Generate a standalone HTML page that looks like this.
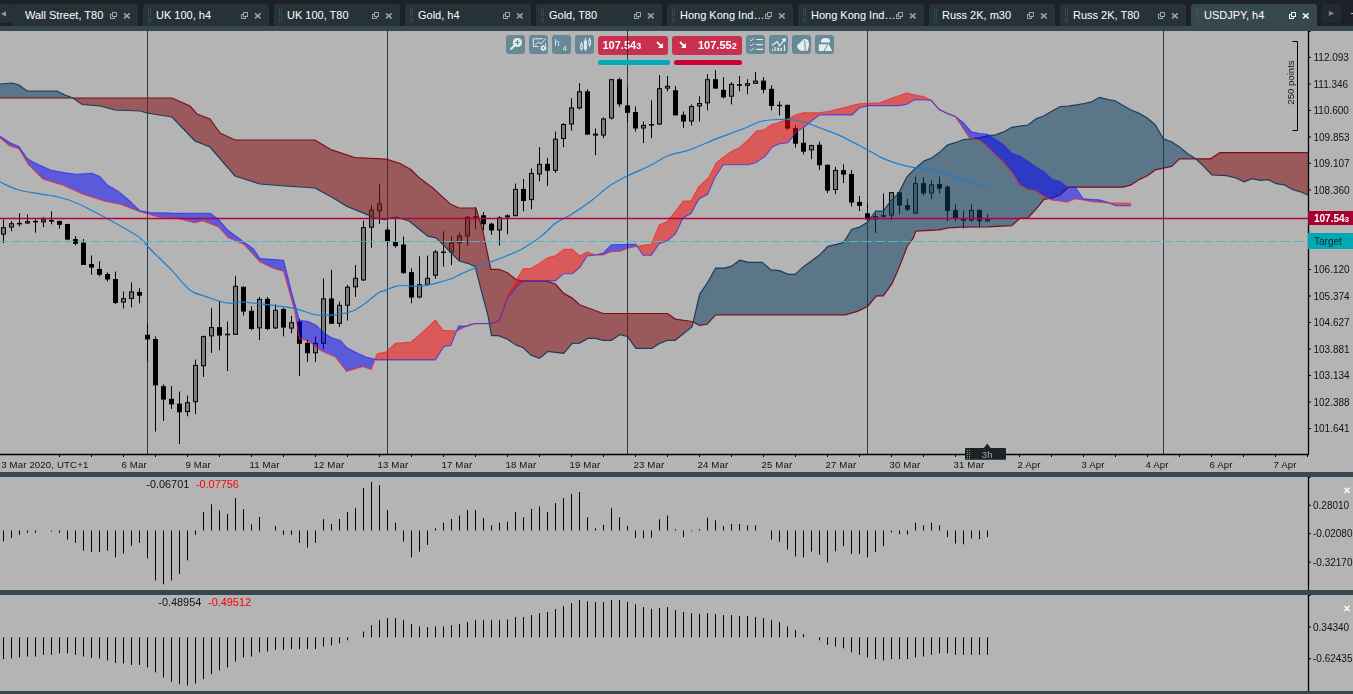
<!DOCTYPE html>
<html><head><meta charset="utf-8"><style>
html,body{margin:0;padding:0;}
body{width:1353px;height:694px;overflow:hidden;position:relative;background:#b4b4b4;font-family:"Liberation Sans",sans-serif;}
</style></head><body>
<svg width="1353" height="694" viewBox="0 0 1353 694" style="position:absolute;left:0;top:0;will-change:transform"><defs><clipPath id="cpMain"><rect x="0" y="31" width="1308" height="423"/></clipPath><clipPath id="belowSA"><polygon points="0.0,84.0 12.0,83.0 19.0,85.0 27.0,91.0 57.0,91.0 65.0,95.0 73.0,98.0 82.0,104.5 100.0,106.0 115.0,110.0 140.0,111.0 147.0,113.0 172.0,117.0 195.0,141.0 210.0,147.0 235.0,176.0 260.0,184.0 285.0,186.0 315.0,188.0 333.3,198.0 346.5,206.3 363.1,212.9 374.7,217.9 384.7,219.6 396.3,216.9 409.6,221.2 419.5,229.5 427.8,236.1 436.1,237.8 447.7,249.4 459.3,261.0 467.6,263.3 475.1,266.4 481.1,289.8 488.0,315.7 491.5,335.6 498.4,335.6 507.5,339.3 515.9,345.0 523.4,347.8 530.9,355.3 539.4,358.4 547.8,351.5 563.7,353.4 572.2,343.4 579.6,343.1 588.1,338.4 595.6,338.4 603.1,340.3 611.5,340.3 619.9,334.6 627.4,336.5 635.9,348.3 651.8,348.3 660.2,343.1 667.7,340.3 675.2,340.3 692.1,326.6 699.6,294.3 706.9,283.7 715.6,268.1 724.2,268.1 731.1,266.4 739.8,260.2 748.4,262.3 762.3,262.3 770.9,269.9 779.6,270.6 788.2,274.4 795.1,274.4 803.8,266.4 819.3,255.3 828.0,246.3 841.8,243.2 845.1,240.0 851.6,229.4 859.4,227.2 867.8,222.0 875.6,211.2 883.4,211.2 889.9,201.9 898.9,192.8 906.9,176.8 915.0,168.8 924.2,160.7 931.1,158.4 939.2,152.6 947.3,145.0 955.3,142.7 963.4,139.5 971.5,138.8 979.5,137.6 987.6,135.8 995.7,134.9 1003.7,131.9 1011.8,127.3 1019.9,126.1 1028.0,125.0 1036.0,118.7 1044.1,115.7 1052.2,111.1 1060.2,106.5 1068.3,106.1 1076.4,104.9 1084.4,103.5 1091.4,101.9 1099.4,97.3 1108.1,99.6 1115.0,100.7 1123.1,105.4 1131.1,110.0 1139.2,113.4 1147.3,118.0 1155.3,125.0 1163.4,138.8 1171.5,141.8 1179.5,146.9 1187.6,153.8 1195.7,158.8 1203.7,166.4 1211.8,175.0 1226.8,175.7 1236.0,178.0 1244.1,181.9 1252.1,178.7 1260.2,180.3 1268.3,179.6 1276.3,183.7 1284.4,184.9 1292.5,189.5 1300.6,191.8 1308.0,195.3 1308,460 0,460"/></clipPath><clipPath id="belowSB"><polygon points="0.0,98.0 172.0,98.0 190.0,106.0 197.0,114.0 210.0,119.0 220.0,133.0 235.0,140.0 315.0,140.0 331.6,149.9 354.8,157.5 386.3,159.2 399.6,163.2 411.2,169.8 419.5,178.1 432.8,188.0 451.0,204.6 459.3,208.0 475.9,208.0 482.5,229.5 490.8,269.3 499.1,269.3 507.5,272.8 515.9,279.4 522.5,281.2 546.9,281.2 555.3,284.0 563.7,293.4 572.2,298.1 579.6,304.7 603.1,313.5 667.7,313.5 675.2,319.1 692.1,321.5 699.6,325.3 707.1,324.3 715.6,314.8 845.3,314.8 857.4,311.4 867.8,306.2 876.4,295.8 883.3,295.8 892.0,283.7 898.9,268.1 907.5,245.7 913.2,238.2 915.8,231.1 939.1,229.8 948.2,227.8 961.2,227.2 987.1,226.8 1011.8,225.7 1019.9,218.3 1028.0,217.9 1036.0,209.1 1044.1,199.4 1052.2,198.0 1060.2,194.8 1068.3,187.2 1123.1,187.2 1131.1,184.9 1139.2,179.6 1147.3,175.7 1155.3,169.9 1163.4,168.1 1171.5,166.4 1179.5,158.8 1210.6,158.8 1219.9,152.6 1308.0,152.6 1308,460 0,460"/></clipPath><clipPath id="belowP"><polygon points="0.0,136.1 9.5,142.5 19.0,146.6 26.9,158.3 34.9,163.1 50.7,170.0 63.4,172.6 76.0,174.2 91.9,173.2 99.8,176.4 107.7,185.3 118.8,191.6 129.9,201.1 139.4,210.5 148.9,212.5 171.1,213.1 210.1,213.2 218.6,219.5 228.1,230.5 240.8,239.8 253.5,248.8 259.8,258.6 283.6,260.2 291.5,291.9 299.4,320.4 308.5,321.6 316.5,325.4 324.4,333.3 332.3,338.1 340.3,340.6 346.6,347.6 356.1,352.4 365.6,357.1 377.3,359.9 435.3,359.9 443.9,346.5 450.8,345.5 458.6,326.1 467.3,326.1 475.1,323.5 491.5,323.5 499.3,320.9 507.5,298.1 515.0,288.7 522.5,280.9 555.3,280.9 563.7,273.7 572.2,273.7 579.6,267.7 587.1,255.9 595.6,255.0 603.1,253.1 611.5,244.7 635.8,244.2 643.0,255.3 651.4,255.3 659.2,243.7 667.6,240.7 675.4,233.8 683.2,217.7 691.0,213.5 698.7,199.2 707.8,194.0 715.2,176.9 723.3,164.8 748.5,164.8 755.5,162.8 764.6,156.8 772.7,146.7 779.7,143.7 787.8,142.7 796.9,131.6 804.9,126.5 812.0,120.5 820.0,114.8 852.2,114.9 859.1,108.0 867.8,105.6 898.9,105.6 906.9,104.2 915.0,99.6 931.1,100.3 939.2,109.5 947.3,113.4 955.3,116.4 963.4,122.7 971.5,131.9 979.5,133.5 987.6,134.2 995.7,139.5 1003.7,145.0 1011.8,153.3 1019.9,156.1 1028.0,161.2 1036.0,167.1 1044.1,171.8 1052.2,179.6 1060.2,181.4 1067.1,187.2 1075.2,187.2 1083.3,198.7 1091.4,199.4 1099.4,199.9 1107.5,202.2 1115.6,205.6 1131.2,205.6 1131.2,460 0,460"/></clipPath><clipPath id="belowR"><polygon points="0.0,137.7 9.5,145.7 19.0,148.8 28.5,164.7 42.8,178.9 63.4,185.3 82.4,194.1 104.6,201.1 120.4,204.3 139.4,211.5 158.4,217.0 177.4,218.5 194.9,222.7 202.8,220.7 218.6,227.0 228.1,237.5 244.0,244.4 259.8,261.8 272.5,268.1 283.6,271.3 294.7,310.9 299.4,338.5 308.5,341.3 321.2,350.8 335.5,357.1 346.6,371.4 362.5,366.6 371.2,369.4 377.3,353.8 386.0,352.1 395.5,343.4 411.0,342.0 419.7,334.8 429.2,326.1 435.3,320.1 443.0,330.4 456.9,331.0 470.7,324.0 491.5,323.5 499.3,320.1 507.5,295.3 515.0,282.2 523.4,268.5 530.9,268.5 539.4,263.4 547.8,257.8 555.3,255.9 563.7,249.4 572.2,249.4 579.6,255.9 587.1,252.2 595.6,255.0 603.1,255.0 611.5,251.6 619.9,251.2 630.0,247.8 643.0,245.2 651.4,244.2 659.2,225.1 667.6,221.2 675.4,211.5 683.2,201.1 691.0,201.1 698.7,186.9 709.2,176.9 716.2,162.8 724.3,156.4 732.3,151.1 739.4,147.7 748.5,139.6 756.5,131.0 764.6,129.6 770.6,124.9 778.7,122.5 788.8,118.5 796.9,114.4 802.9,112.8 819.0,112.8 829.1,111.4 845.3,107.3 859.1,103.8 879.9,102.8 893.7,97.6 906.9,93.1 915.0,95.0 923.1,96.6 931.1,100.3 939.2,109.5 947.3,113.4 955.3,116.4 969.2,137.6 980.7,141.1 987.6,146.9 995.7,154.9 1003.7,162.5 1011.8,172.2 1019.9,184.9 1028.0,189.5 1036.0,190.7 1044.1,196.4 1052.2,200.3 1060.2,201.0 1067.1,202.2 1075.2,198.7 1083.3,199.9 1091.4,201.7 1099.4,202.2 1107.5,202.9 1131.2,203.3 1131.2,460 0,460"/></clipPath></defs><g clip-path="url(#cpMain)"><line x1="147.5" y1="31" x2="147.5" y2="454" stroke="#263c4c" stroke-width="1"/><line x1="387.5" y1="31" x2="387.5" y2="454" stroke="#263c4c" stroke-width="1"/><line x1="627.5" y1="31" x2="627.5" y2="454" stroke="#263c4c" stroke-width="1"/><line x1="867.5" y1="31" x2="867.5" y2="454" stroke="#263c4c" stroke-width="1"/><line x1="1163.5" y1="31" x2="1163.5" y2="454" stroke="#263c4c" stroke-width="1"/><line x1="3.5" y1="219.6" x2="3.5" y2="243.0" stroke="#000" stroke-width="1"/><rect x="1.5" y="227.7" width="4" height="6.4" fill="#7a7a7a" stroke="#000" stroke-width="1"/><line x1="11.5" y1="221.2" x2="11.5" y2="231.2" stroke="#000" stroke-width="1"/><rect x="9.5" y="223.7" width="4" height="3.3" fill="#7a7a7a" stroke="#000" stroke-width="1"/><line x1="19.5" y1="213.2" x2="19.5" y2="226.4" stroke="#000" stroke-width="1"/><rect x="17.0" y="222.9" width="5" height="1.5" fill="#000"/><line x1="27.5" y1="214.5" x2="27.5" y2="223.7" stroke="#000" stroke-width="1"/><rect x="25.5" y="221.7" width="4" height="1.3" fill="#7a7a7a" stroke="#000" stroke-width="1"/><line x1="35.5" y1="219.3" x2="35.5" y2="232.7" stroke="#000" stroke-width="1"/><rect x="33.0" y="220.9" width="5" height="1.5" fill="#000"/><line x1="43.5" y1="216.9" x2="43.5" y2="227.2" stroke="#000" stroke-width="1"/><rect x="41.5" y="219.8" width="4" height="2.1" fill="#7a7a7a" stroke="#000" stroke-width="1"/><line x1="51.5" y1="211.3" x2="51.5" y2="224.3" stroke="#000" stroke-width="1"/><rect x="49.0" y="220.0" width="5" height="1.6" fill="#000"/><line x1="59.5" y1="220.9" x2="59.5" y2="228.5" stroke="#000" stroke-width="1"/><rect x="57.0" y="220.9" width="5" height="3.9" fill="#000"/><line x1="67.5" y1="223.7" x2="67.5" y2="240.2" stroke="#000" stroke-width="1"/><rect x="65.0" y="224.0" width="5" height="15.6" fill="#000"/><line x1="75.5" y1="236.2" x2="75.5" y2="245.4" stroke="#000" stroke-width="1"/><rect x="73.0" y="239.1" width="5" height="4.7" fill="#000"/><line x1="83.5" y1="239.1" x2="83.5" y2="265.0" stroke="#000" stroke-width="1"/><rect x="81.0" y="242.7" width="5" height="22.3" fill="#000"/><line x1="91.5" y1="255.4" x2="91.5" y2="274.8" stroke="#000" stroke-width="1"/><rect x="89.0" y="264.0" width="5" height="3.6" fill="#000"/><line x1="99.5" y1="261.3" x2="99.5" y2="276.3" stroke="#000" stroke-width="1"/><rect x="97.0" y="268.9" width="5" height="5.9" fill="#000"/><line x1="107.5" y1="272.4" x2="107.5" y2="281.4" stroke="#000" stroke-width="1"/><rect x="105.0" y="274.0" width="5" height="5.5" fill="#000"/><line x1="115.5" y1="271.6" x2="115.5" y2="304.1" stroke="#000" stroke-width="1"/><rect x="113.0" y="279.0" width="5" height="24.0" fill="#000"/><line x1="123.5" y1="291.4" x2="123.5" y2="308.4" stroke="#000" stroke-width="1"/><rect x="121.5" y="298.7" width="4" height="3.3" fill="#7a7a7a" stroke="#000" stroke-width="1"/><line x1="131.5" y1="282.4" x2="131.5" y2="307.3" stroke="#000" stroke-width="1"/><rect x="129.5" y="291.9" width="4" height="6.5" fill="#7a7a7a" stroke="#000" stroke-width="1"/><line x1="139.5" y1="288.2" x2="139.5" y2="303.3" stroke="#000" stroke-width="1"/><rect x="137.0" y="291.9" width="5" height="3.8" fill="#000"/><line x1="147.5" y1="323.6" x2="147.5" y2="361.6" stroke="#000" stroke-width="1"/><rect x="145.0" y="334.7" width="5" height="4.7" fill="#000"/><line x1="155.5" y1="336.4" x2="155.5" y2="431.5" stroke="#000" stroke-width="1"/><rect x="153.0" y="339.0" width="5" height="46.4" fill="#000"/><line x1="163.5" y1="384.4" x2="163.5" y2="420.9" stroke="#000" stroke-width="1"/><rect x="161.0" y="386.2" width="5" height="13.4" fill="#000"/><line x1="171.5" y1="386.2" x2="171.5" y2="408.9" stroke="#000" stroke-width="1"/><rect x="169.0" y="398.8" width="5" height="5.6" fill="#000"/><line x1="179.5" y1="391.6" x2="179.5" y2="444.0" stroke="#000" stroke-width="1"/><rect x="177.0" y="403.6" width="5" height="8.7" fill="#000"/><line x1="187.5" y1="395.6" x2="187.5" y2="416.3" stroke="#000" stroke-width="1"/><rect x="185.5" y="402.7" width="4" height="8.9" fill="#7a7a7a" stroke="#000" stroke-width="1"/><line x1="195.5" y1="359.6" x2="195.5" y2="414.2" stroke="#000" stroke-width="1"/><rect x="193.5" y="365.4" width="4" height="36.3" fill="#7a7a7a" stroke="#000" stroke-width="1"/><line x1="203.5" y1="335.6" x2="203.5" y2="376.9" stroke="#000" stroke-width="1"/><rect x="201.5" y="336.6" width="4" height="29.2" fill="#7a7a7a" stroke="#000" stroke-width="1"/><line x1="211.5" y1="308.2" x2="211.5" y2="352.9" stroke="#000" stroke-width="1"/><rect x="209.5" y="327.6" width="4" height="8.3" fill="#7a7a7a" stroke="#000" stroke-width="1"/><line x1="219.5" y1="301.0" x2="219.5" y2="350.3" stroke="#000" stroke-width="1"/><rect x="217.0" y="327.1" width="5" height="8.5" fill="#000"/><line x1="227.5" y1="321.5" x2="227.5" y2="371.0" stroke="#000" stroke-width="1"/><rect x="225.0" y="333.7" width="5" height="1.6" fill="#000"/><line x1="235.5" y1="276.2" x2="235.5" y2="334.8" stroke="#000" stroke-width="1"/><rect x="233.5" y="286.3" width="4" height="48.0" fill="#7a7a7a" stroke="#000" stroke-width="1"/><line x1="243.5" y1="286.3" x2="243.5" y2="315.6" stroke="#000" stroke-width="1"/><rect x="241.0" y="286.8" width="5" height="24.8" fill="#000"/><line x1="251.5" y1="306.3" x2="251.5" y2="330.3" stroke="#000" stroke-width="1"/><rect x="249.0" y="310.8" width="5" height="18.2" fill="#000"/><line x1="259.5" y1="297.0" x2="259.5" y2="340.1" stroke="#000" stroke-width="1"/><rect x="257.5" y="299.3" width="4" height="28.6" fill="#7a7a7a" stroke="#000" stroke-width="1"/><line x1="267.5" y1="297.0" x2="267.5" y2="330.3" stroke="#000" stroke-width="1"/><rect x="265.0" y="298.8" width="5" height="30.2" fill="#000"/><line x1="275.5" y1="304.4" x2="275.5" y2="329.0" stroke="#000" stroke-width="1"/><rect x="273.5" y="310.3" width="4" height="17.6" fill="#7a7a7a" stroke="#000" stroke-width="1"/><line x1="283.5" y1="307.6" x2="283.5" y2="336.4" stroke="#000" stroke-width="1"/><rect x="281.0" y="309.0" width="5" height="18.6" fill="#000"/><line x1="291.5" y1="315.9" x2="291.5" y2="333.3" stroke="#000" stroke-width="1"/><rect x="289.5" y="322.7" width="4" height="5.4" fill="#7a7a7a" stroke="#000" stroke-width="1"/><line x1="299.5" y1="319.0" x2="299.5" y2="376.2" stroke="#000" stroke-width="1"/><rect x="297.0" y="321.6" width="5" height="22.2" fill="#000"/><line x1="307.5" y1="339.7" x2="307.5" y2="361.9" stroke="#000" stroke-width="1"/><rect x="305.0" y="342.9" width="5" height="10.4" fill="#000"/><line x1="315.5" y1="336.5" x2="315.5" y2="361.9" stroke="#000" stroke-width="1"/><rect x="313.5" y="343.4" width="4" height="9.4" fill="#7a7a7a" stroke="#000" stroke-width="1"/><line x1="323.5" y1="278.5" x2="323.5" y2="349.2" stroke="#000" stroke-width="1"/><rect x="321.5" y="298.9" width="4" height="44.4" fill="#7a7a7a" stroke="#000" stroke-width="1"/><line x1="331.5" y1="269.9" x2="331.5" y2="323.8" stroke="#000" stroke-width="1"/><rect x="329.0" y="298.4" width="5" height="25.4" fill="#000"/><line x1="339.5" y1="301.6" x2="339.5" y2="327.0" stroke="#000" stroke-width="1"/><rect x="337.5" y="305.3" width="4" height="18.0" fill="#7a7a7a" stroke="#000" stroke-width="1"/><line x1="347.5" y1="284.8" x2="347.5" y2="320.6" stroke="#000" stroke-width="1"/><rect x="345.5" y="287.2" width="4" height="18.0" fill="#7a7a7a" stroke="#000" stroke-width="1"/><line x1="355.5" y1="265.1" x2="355.5" y2="296.9" stroke="#000" stroke-width="1"/><rect x="353.5" y="278.3" width="4" height="8.5" fill="#7a7a7a" stroke="#000" stroke-width="1"/><line x1="363.5" y1="220.7" x2="363.5" y2="281.0" stroke="#000" stroke-width="1"/><rect x="361.5" y="227.6" width="4" height="52.3" fill="#7a7a7a" stroke="#000" stroke-width="1"/><line x1="371.5" y1="204.9" x2="371.5" y2="247.7" stroke="#000" stroke-width="1"/><rect x="369.5" y="210.1" width="4" height="17.1" fill="#7a7a7a" stroke="#000" stroke-width="1"/><line x1="379.5" y1="184.3" x2="379.5" y2="223.9" stroke="#000" stroke-width="1"/><rect x="377.5" y="203.8" width="4" height="6.9" fill="#7a7a7a" stroke="#000" stroke-width="1"/><line x1="387.5" y1="227.1" x2="387.5" y2="246.1" stroke="#000" stroke-width="1"/><rect x="385.0" y="229.6" width="5" height="11.8" fill="#000"/><line x1="395.5" y1="219.2" x2="395.5" y2="247.7" stroke="#000" stroke-width="1"/><rect x="393.0" y="241.4" width="5" height="4.7" fill="#000"/><line x1="403.5" y1="236.6" x2="403.5" y2="274.0" stroke="#000" stroke-width="1"/><rect x="401.0" y="244.5" width="5" height="28.6" fill="#000"/><line x1="411.5" y1="268.3" x2="411.5" y2="303.2" stroke="#000" stroke-width="1"/><rect x="409.0" y="272.1" width="5" height="25.4" fill="#000"/><line x1="419.5" y1="256.3" x2="419.5" y2="298.4" stroke="#000" stroke-width="1"/><rect x="417.5" y="284.7" width="4" height="12.3" fill="#7a7a7a" stroke="#000" stroke-width="1"/><line x1="427.5" y1="255.6" x2="427.5" y2="285.8" stroke="#000" stroke-width="1"/><rect x="425.5" y="278.3" width="4" height="6.0" fill="#7a7a7a" stroke="#000" stroke-width="1"/><line x1="435.5" y1="250.0" x2="435.5" y2="278.8" stroke="#000" stroke-width="1"/><rect x="433.5" y="252.0" width="4" height="23.2" fill="#7a7a7a" stroke="#000" stroke-width="1"/><line x1="443.5" y1="231.3" x2="443.5" y2="266.7" stroke="#000" stroke-width="1"/><rect x="441.0" y="251.5" width="5" height="1.5" fill="#000"/><line x1="451.5" y1="236.4" x2="451.5" y2="265.1" stroke="#000" stroke-width="1"/><rect x="449.5" y="243.0" width="4" height="8.9" fill="#7a7a7a" stroke="#000" stroke-width="1"/><line x1="459.5" y1="232.5" x2="459.5" y2="260.6" stroke="#000" stroke-width="1"/><rect x="457.5" y="236.0" width="4" height="6.9" fill="#7a7a7a" stroke="#000" stroke-width="1"/><line x1="467.5" y1="216.2" x2="467.5" y2="245.5" stroke="#000" stroke-width="1"/><rect x="465.5" y="217.3" width="4" height="18.6" fill="#7a7a7a" stroke="#000" stroke-width="1"/><line x1="475.5" y1="207.1" x2="475.5" y2="228.9" stroke="#000" stroke-width="1"/><rect x="473.0" y="216.2" width="5" height="1.5" fill="#000"/><line x1="483.5" y1="212.2" x2="483.5" y2="230.4" stroke="#000" stroke-width="1"/><rect x="481.0" y="215.3" width="5" height="9.0" fill="#000"/><line x1="491.5" y1="222.8" x2="491.5" y2="234.9" stroke="#000" stroke-width="1"/><rect x="489.0" y="223.7" width="5" height="6.7" fill="#000"/><line x1="499.5" y1="216.2" x2="499.5" y2="245.5" stroke="#000" stroke-width="1"/><rect x="497.5" y="217.9" width="4" height="12.0" fill="#7a7a7a" stroke="#000" stroke-width="1"/><line x1="507.5" y1="214.3" x2="507.5" y2="234.3" stroke="#000" stroke-width="1"/><rect x="505.5" y="215.8" width="4" height="1.1" fill="#7a7a7a" stroke="#000" stroke-width="1"/><line x1="515.5" y1="183.5" x2="515.5" y2="216.2" stroke="#000" stroke-width="1"/><rect x="513.5" y="189.4" width="4" height="26.3" fill="#7a7a7a" stroke="#000" stroke-width="1"/><line x1="523.5" y1="179.0" x2="523.5" y2="211.3" stroke="#000" stroke-width="1"/><rect x="521.0" y="188.9" width="5" height="12.1" fill="#000"/><line x1="531.5" y1="168.4" x2="531.5" y2="209.2" stroke="#000" stroke-width="1"/><rect x="529.5" y="173.4" width="4" height="26.2" fill="#7a7a7a" stroke="#000" stroke-width="1"/><line x1="539.5" y1="147.2" x2="539.5" y2="181.1" stroke="#000" stroke-width="1"/><rect x="537.5" y="164.3" width="4" height="9.6" fill="#7a7a7a" stroke="#000" stroke-width="1"/><line x1="547.5" y1="157.8" x2="547.5" y2="185.9" stroke="#000" stroke-width="1"/><rect x="545.0" y="163.8" width="5" height="7.0" fill="#000"/><line x1="555.5" y1="131.5" x2="555.5" y2="172.9" stroke="#000" stroke-width="1"/><rect x="553.5" y="139.2" width="4" height="31.1" fill="#7a7a7a" stroke="#000" stroke-width="1"/><line x1="563.5" y1="123.0" x2="563.5" y2="147.2" stroke="#000" stroke-width="1"/><rect x="561.5" y="124.5" width="4" height="14.0" fill="#7a7a7a" stroke="#000" stroke-width="1"/><line x1="571.5" y1="98.3" x2="571.5" y2="130.6" stroke="#000" stroke-width="1"/><rect x="569.5" y="107.9" width="4" height="16.1" fill="#7a7a7a" stroke="#000" stroke-width="1"/><line x1="579.5" y1="83.2" x2="579.5" y2="109.4" stroke="#000" stroke-width="1"/><rect x="577.5" y="91.8" width="4" height="16.1" fill="#7a7a7a" stroke="#000" stroke-width="1"/><line x1="587.5" y1="89.2" x2="587.5" y2="134.6" stroke="#000" stroke-width="1"/><rect x="585.0" y="91.3" width="5" height="43.3" fill="#000"/><line x1="595.5" y1="128.5" x2="595.5" y2="155.2" stroke="#000" stroke-width="1"/><rect x="593.0" y="133.6" width="5" height="2.0" fill="#000"/><line x1="603.5" y1="117.5" x2="603.5" y2="138.2" stroke="#000" stroke-width="1"/><rect x="601.5" y="119.0" width="4" height="16.1" fill="#7a7a7a" stroke="#000" stroke-width="1"/><line x1="611.5" y1="79.2" x2="611.5" y2="119.5" stroke="#000" stroke-width="1"/><rect x="609.5" y="79.7" width="4" height="38.3" fill="#7a7a7a" stroke="#000" stroke-width="1"/><line x1="619.5" y1="77.7" x2="619.5" y2="106.8" stroke="#000" stroke-width="1"/><rect x="617.0" y="79.2" width="5" height="25.2" fill="#000"/><line x1="627.5" y1="87.2" x2="627.5" y2="122.5" stroke="#000" stroke-width="1"/><rect x="625.0" y="105.4" width="5" height="7.4" fill="#000"/><line x1="635.5" y1="106.4" x2="635.5" y2="131.6" stroke="#000" stroke-width="1"/><rect x="633.0" y="112.0" width="5" height="16.5" fill="#000"/><line x1="643.5" y1="121.5" x2="643.5" y2="143.1" stroke="#000" stroke-width="1"/><rect x="641.5" y="125.4" width="4" height="2.6" fill="#7a7a7a" stroke="#000" stroke-width="1"/><line x1="651.5" y1="100.3" x2="651.5" y2="138.2" stroke="#000" stroke-width="1"/><rect x="649.0" y="124.1" width="5" height="1.5" fill="#000"/><line x1="659.5" y1="75.1" x2="659.5" y2="124.9" stroke="#000" stroke-width="1"/><rect x="657.5" y="88.7" width="4" height="35.3" fill="#7a7a7a" stroke="#000" stroke-width="1"/><line x1="667.5" y1="76.1" x2="667.5" y2="91.3" stroke="#000" stroke-width="1"/><rect x="665.5" y="86.3" width="4" height="1.8" fill="#7a7a7a" stroke="#000" stroke-width="1"/><line x1="675.5" y1="86.2" x2="675.5" y2="115.4" stroke="#000" stroke-width="1"/><rect x="673.0" y="90.2" width="5" height="25.2" fill="#000"/><line x1="683.5" y1="111.4" x2="683.5" y2="128.1" stroke="#000" stroke-width="1"/><rect x="681.0" y="114.8" width="5" height="6.7" fill="#000"/><line x1="691.5" y1="104.4" x2="691.5" y2="125.5" stroke="#000" stroke-width="1"/><rect x="689.5" y="106.5" width="4" height="14.5" fill="#7a7a7a" stroke="#000" stroke-width="1"/><line x1="699.5" y1="96.3" x2="699.5" y2="121.5" stroke="#000" stroke-width="1"/><rect x="697.5" y="103.5" width="4" height="2.4" fill="#7a7a7a" stroke="#000" stroke-width="1"/><line x1="707.5" y1="74.1" x2="707.5" y2="110.4" stroke="#000" stroke-width="1"/><rect x="705.5" y="79.7" width="4" height="23.1" fill="#7a7a7a" stroke="#000" stroke-width="1"/><line x1="715.5" y1="70.1" x2="715.5" y2="88.6" stroke="#000" stroke-width="1"/><rect x="713.0" y="79.2" width="5" height="9.4" fill="#000"/><line x1="723.5" y1="77.1" x2="723.5" y2="98.3" stroke="#000" stroke-width="1"/><rect x="721.0" y="89.8" width="5" height="7.5" fill="#000"/><line x1="731.5" y1="82.2" x2="731.5" y2="104.4" stroke="#000" stroke-width="1"/><rect x="729.5" y="84.3" width="4" height="11.9" fill="#7a7a7a" stroke="#000" stroke-width="1"/><line x1="739.5" y1="76.1" x2="739.5" y2="91.3" stroke="#000" stroke-width="1"/><rect x="737.0" y="84.2" width="5" height="1.6" fill="#000"/><line x1="747.5" y1="79.2" x2="747.5" y2="94.3" stroke="#000" stroke-width="1"/><rect x="745.5" y="83.7" width="4" height="1.6" fill="#7a7a7a" stroke="#000" stroke-width="1"/><line x1="755.5" y1="72.1" x2="755.5" y2="83.8" stroke="#000" stroke-width="1"/><rect x="753.5" y="81.1" width="4" height="2.2" fill="#7a7a7a" stroke="#000" stroke-width="1"/><line x1="763.5" y1="77.1" x2="763.5" y2="93.3" stroke="#000" stroke-width="1"/><rect x="761.0" y="80.6" width="5" height="9.2" fill="#000"/><line x1="771.5" y1="85.2" x2="771.5" y2="110.4" stroke="#000" stroke-width="1"/><rect x="769.0" y="88.8" width="5" height="17.2" fill="#000"/><line x1="779.5" y1="101.3" x2="779.5" y2="115.4" stroke="#000" stroke-width="1"/><rect x="777.0" y="104.8" width="5" height="1.5" fill="#000"/><line x1="787.5" y1="104.8" x2="787.5" y2="129.6" stroke="#000" stroke-width="1"/><rect x="785.0" y="104.8" width="5" height="23.7" fill="#000"/><line x1="795.5" y1="125.5" x2="795.5" y2="147.7" stroke="#000" stroke-width="1"/><rect x="793.0" y="128.1" width="5" height="15.6" fill="#000"/><line x1="803.5" y1="128.5" x2="803.5" y2="154.4" stroke="#000" stroke-width="1"/><rect x="801.0" y="142.7" width="5" height="9.0" fill="#000"/><line x1="811.5" y1="144.7" x2="811.5" y2="159.2" stroke="#000" stroke-width="1"/><rect x="809.5" y="145.6" width="4" height="4.2" fill="#7a7a7a" stroke="#000" stroke-width="1"/><line x1="819.5" y1="141.7" x2="819.5" y2="169.9" stroke="#000" stroke-width="1"/><rect x="817.0" y="144.7" width="5" height="20.5" fill="#000"/><line x1="827.5" y1="164.4" x2="827.5" y2="193.1" stroke="#000" stroke-width="1"/><rect x="825.0" y="164.8" width="5" height="25.8" fill="#000"/><line x1="835.5" y1="166.9" x2="835.5" y2="194.1" stroke="#000" stroke-width="1"/><rect x="833.5" y="170.4" width="4" height="19.1" fill="#7a7a7a" stroke="#000" stroke-width="1"/><line x1="843.5" y1="164.3" x2="843.5" y2="183.1" stroke="#000" stroke-width="1"/><rect x="841.0" y="170.1" width="5" height="4.5" fill="#000"/><line x1="851.5" y1="170.1" x2="851.5" y2="206.4" stroke="#000" stroke-width="1"/><rect x="849.0" y="174.0" width="5" height="28.5" fill="#000"/><line x1="859.5" y1="196.0" x2="859.5" y2="211.0" stroke="#000" stroke-width="1"/><rect x="857.0" y="201.9" width="5" height="3.9" fill="#000"/><line x1="867.5" y1="203.2" x2="867.5" y2="220.0" stroke="#000" stroke-width="1"/><rect x="865.0" y="213.3" width="5" height="6.1" fill="#000"/><line x1="875.5" y1="213.6" x2="875.5" y2="233.0" stroke="#000" stroke-width="1"/><rect x="873.5" y="216.6" width="4" height="2.3" fill="#7a7a7a" stroke="#000" stroke-width="1"/><line x1="883.5" y1="193.5" x2="883.5" y2="217.4" stroke="#000" stroke-width="1"/><rect x="881.0" y="215.1" width="5" height="1.7" fill="#000"/><line x1="891.5" y1="191.8" x2="891.5" y2="220.0" stroke="#000" stroke-width="1"/><rect x="889.5" y="192.7" width="4" height="22.3" fill="#7a7a7a" stroke="#000" stroke-width="1"/><line x1="899.5" y1="192.2" x2="899.5" y2="214.2" stroke="#000" stroke-width="1"/><rect x="897.0" y="192.2" width="5" height="13.3" fill="#000"/><line x1="907.5" y1="198.6" x2="907.5" y2="211.0" stroke="#000" stroke-width="1"/><rect x="905.0" y="205.1" width="5" height="4.6" fill="#000"/><line x1="915.5" y1="176.6" x2="915.5" y2="213.6" stroke="#000" stroke-width="1"/><rect x="913.5" y="183.6" width="4" height="29.5" fill="#7a7a7a" stroke="#000" stroke-width="1"/><line x1="923.5" y1="177.2" x2="923.5" y2="195.4" stroke="#000" stroke-width="1"/><rect x="921.0" y="183.1" width="5" height="10.4" fill="#000"/><line x1="931.5" y1="180.5" x2="931.5" y2="199.3" stroke="#000" stroke-width="1"/><rect x="929.5" y="184.9" width="4" height="8.1" fill="#7a7a7a" stroke="#000" stroke-width="1"/><line x1="939.5" y1="176.6" x2="939.5" y2="193.5" stroke="#000" stroke-width="1"/><rect x="937.0" y="184.0" width="5" height="4.7" fill="#000"/><line x1="947.5" y1="185.3" x2="947.5" y2="221.3" stroke="#000" stroke-width="1"/><rect x="945.0" y="186.6" width="5" height="24.4" fill="#000"/><line x1="955.5" y1="204.5" x2="955.5" y2="221.3" stroke="#000" stroke-width="1"/><rect x="953.0" y="209.9" width="5" height="8.2" fill="#000"/><line x1="963.5" y1="210.3" x2="963.5" y2="228.5" stroke="#000" stroke-width="1"/><rect x="961.0" y="218.7" width="5" height="2.0" fill="#000"/><line x1="971.5" y1="204.5" x2="971.5" y2="222.0" stroke="#000" stroke-width="1"/><rect x="969.5" y="210.4" width="4" height="9.8" fill="#7a7a7a" stroke="#000" stroke-width="1"/><line x1="979.5" y1="209.4" x2="979.5" y2="227.2" stroke="#000" stroke-width="1"/><rect x="977.0" y="209.9" width="5" height="11.4" fill="#000"/><line x1="987.5" y1="214.2" x2="987.5" y2="222.0" stroke="#000" stroke-width="1"/><rect x="985.5" y="219.2" width="4" height="1.6" fill="#7a7a7a" stroke="#000" stroke-width="1"/><polygon points="0.0,98.0 172.0,98.0 190.0,106.0 197.0,114.0 210.0,119.0 220.0,133.0 235.0,140.0 315.0,140.0 331.6,149.9 354.8,157.5 386.3,159.2 399.6,163.2 411.2,169.8 419.5,178.1 432.8,188.0 451.0,204.6 459.3,208.0 475.9,208.0 482.5,229.5 490.8,269.3 499.1,269.3 507.5,272.8 515.9,279.4 522.5,281.2 546.9,281.2 555.3,284.0 563.7,293.4 572.2,298.1 579.6,304.7 603.1,313.5 667.7,313.5 675.2,319.1 692.1,321.5 699.6,325.3 707.1,324.3 715.6,314.8 845.3,314.8 857.4,311.4 867.8,306.2 876.4,295.8 883.3,295.8 892.0,283.7 898.9,268.1 907.5,245.7 913.2,238.2 915.8,231.1 939.1,229.8 948.2,227.8 961.2,227.2 987.1,226.8 1011.8,225.7 1019.9,218.3 1028.0,217.9 1036.0,209.1 1044.1,199.4 1052.2,198.0 1060.2,194.8 1068.3,187.2 1123.1,187.2 1131.1,184.9 1139.2,179.6 1147.3,175.7 1155.3,169.9 1163.4,168.1 1171.5,166.4 1179.5,158.8 1210.6,158.8 1219.9,152.6 1308.0,152.6 1308,20 0,20" fill="rgba(12,63,97,0.53)" clip-path="url(#belowSA)"/><polygon points="0.0,84.0 12.0,83.0 19.0,85.0 27.0,91.0 57.0,91.0 65.0,95.0 73.0,98.0 82.0,104.5 100.0,106.0 115.0,110.0 140.0,111.0 147.0,113.0 172.0,117.0 195.0,141.0 210.0,147.0 235.0,176.0 260.0,184.0 285.0,186.0 315.0,188.0 333.3,198.0 346.5,206.3 363.1,212.9 374.7,217.9 384.7,219.6 396.3,216.9 409.6,221.2 419.5,229.5 427.8,236.1 436.1,237.8 447.7,249.4 459.3,261.0 467.6,263.3 475.1,266.4 481.1,289.8 488.0,315.7 491.5,335.6 498.4,335.6 507.5,339.3 515.9,345.0 523.4,347.8 530.9,355.3 539.4,358.4 547.8,351.5 563.7,353.4 572.2,343.4 579.6,343.1 588.1,338.4 595.6,338.4 603.1,340.3 611.5,340.3 619.9,334.6 627.4,336.5 635.9,348.3 651.8,348.3 660.2,343.1 667.7,340.3 675.2,340.3 692.1,326.6 699.6,294.3 706.9,283.7 715.6,268.1 724.2,268.1 731.1,266.4 739.8,260.2 748.4,262.3 762.3,262.3 770.9,269.9 779.6,270.6 788.2,274.4 795.1,274.4 803.8,266.4 819.3,255.3 828.0,246.3 841.8,243.2 845.1,240.0 851.6,229.4 859.4,227.2 867.8,222.0 875.6,211.2 883.4,211.2 889.9,201.9 898.9,192.8 906.9,176.8 915.0,168.8 924.2,160.7 931.1,158.4 939.2,152.6 947.3,145.0 955.3,142.7 963.4,139.5 971.5,138.8 979.5,137.6 987.6,135.8 995.7,134.9 1003.7,131.9 1011.8,127.3 1019.9,126.1 1028.0,125.0 1036.0,118.7 1044.1,115.7 1052.2,111.1 1060.2,106.5 1068.3,106.1 1076.4,104.9 1084.4,103.5 1091.4,101.9 1099.4,97.3 1108.1,99.6 1115.0,100.7 1123.1,105.4 1131.1,110.0 1139.2,113.4 1147.3,118.0 1155.3,125.0 1163.4,138.8 1171.5,141.8 1179.5,146.9 1187.6,153.8 1195.7,158.8 1203.7,166.4 1211.8,175.0 1226.8,175.7 1236.0,178.0 1244.1,181.9 1252.1,178.7 1260.2,180.3 1268.3,179.6 1276.3,183.7 1284.4,184.9 1292.5,189.5 1300.6,191.8 1308.0,195.3 1308,20 0,20" fill="rgba(134,19,23,0.56)" clip-path="url(#belowSB)"/><polyline points="0.0,98.0 172.0,98.0 190.0,106.0 197.0,114.0 210.0,119.0 220.0,133.0 235.0,140.0 315.0,140.0 331.6,149.9 354.8,157.5 386.3,159.2 399.6,163.2 411.2,169.8 419.5,178.1 432.8,188.0 451.0,204.6 459.3,208.0 475.9,208.0 482.5,229.5 490.8,269.3 499.1,269.3 507.5,272.8 515.9,279.4 522.5,281.2 546.9,281.2 555.3,284.0 563.7,293.4 572.2,298.1 579.6,304.7 603.1,313.5 667.7,313.5 675.2,319.1 692.1,321.5 699.6,325.3 707.1,324.3 715.6,314.8 845.3,314.8 857.4,311.4 867.8,306.2 876.4,295.8 883.3,295.8 892.0,283.7 898.9,268.1 907.5,245.7 913.2,238.2 915.8,231.1 939.1,229.8 948.2,227.8 961.2,227.2 987.1,226.8 1011.8,225.7 1019.9,218.3 1028.0,217.9 1036.0,209.1 1044.1,199.4 1052.2,198.0 1060.2,194.8 1068.3,187.2 1123.1,187.2 1131.1,184.9 1139.2,179.6 1147.3,175.7 1155.3,169.9 1163.4,168.1 1171.5,166.4 1179.5,158.8 1210.6,158.8 1219.9,152.6 1308.0,152.6" fill="none" stroke="#7a0f1c" stroke-width="1.2"/><polyline points="0.0,84.0 12.0,83.0 19.0,85.0 27.0,91.0 57.0,91.0 65.0,95.0 73.0,98.0 82.0,104.5 100.0,106.0 115.0,110.0 140.0,111.0 147.0,113.0 172.0,117.0 195.0,141.0 210.0,147.0 235.0,176.0 260.0,184.0 285.0,186.0 315.0,188.0 333.3,198.0 346.5,206.3 363.1,212.9 374.7,217.9 384.7,219.6 396.3,216.9 409.6,221.2 419.5,229.5 427.8,236.1 436.1,237.8 447.7,249.4 459.3,261.0 467.6,263.3 475.1,266.4 481.1,289.8 488.0,315.7 491.5,335.6 498.4,335.6 507.5,339.3 515.9,345.0 523.4,347.8 530.9,355.3 539.4,358.4 547.8,351.5 563.7,353.4 572.2,343.4 579.6,343.1 588.1,338.4 595.6,338.4 603.1,340.3 611.5,340.3 619.9,334.6 627.4,336.5 635.9,348.3 651.8,348.3 660.2,343.1 667.7,340.3 675.2,340.3 692.1,326.6 699.6,294.3 706.9,283.7 715.6,268.1 724.2,268.1 731.1,266.4 739.8,260.2 748.4,262.3 762.3,262.3 770.9,269.9 779.6,270.6 788.2,274.4 795.1,274.4 803.8,266.4 819.3,255.3 828.0,246.3 841.8,243.2 845.1,240.0 851.6,229.4 859.4,227.2 867.8,222.0 875.6,211.2 883.4,211.2 889.9,201.9 898.9,192.8 906.9,176.8 915.0,168.8 924.2,160.7 931.1,158.4 939.2,152.6 947.3,145.0 955.3,142.7 963.4,139.5 971.5,138.8 979.5,137.6 987.6,135.8 995.7,134.9 1003.7,131.9 1011.8,127.3 1019.9,126.1 1028.0,125.0 1036.0,118.7 1044.1,115.7 1052.2,111.1 1060.2,106.5 1068.3,106.1 1076.4,104.9 1084.4,103.5 1091.4,101.9 1099.4,97.3 1108.1,99.6 1115.0,100.7 1123.1,105.4 1131.1,110.0 1139.2,113.4 1147.3,118.0 1155.3,125.0 1163.4,138.8 1171.5,141.8 1179.5,146.9 1187.6,153.8 1195.7,158.8 1203.7,166.4 1211.8,175.0 1226.8,175.7 1236.0,178.0 1244.1,181.9 1252.1,178.7 1260.2,180.3 1268.3,179.6 1276.3,183.7 1284.4,184.9 1292.5,189.5 1300.6,191.8 1308.0,195.3" fill="none" stroke="#1b3d5c" stroke-width="1.2"/><polygon points="0.0,137.7 9.5,145.7 19.0,148.8 28.5,164.7 42.8,178.9 63.4,185.3 82.4,194.1 104.6,201.1 120.4,204.3 139.4,211.5 158.4,217.0 177.4,218.5 194.9,222.7 202.8,220.7 218.6,227.0 228.1,237.5 244.0,244.4 259.8,261.8 272.5,268.1 283.6,271.3 294.7,310.9 299.4,338.5 308.5,341.3 321.2,350.8 335.5,357.1 346.6,371.4 362.5,366.6 371.2,369.4 377.3,353.8 386.0,352.1 395.5,343.4 411.0,342.0 419.7,334.8 429.2,326.1 435.3,320.1 443.0,330.4 456.9,331.0 470.7,324.0 491.5,323.5 499.3,320.1 507.5,295.3 515.0,282.2 523.4,268.5 530.9,268.5 539.4,263.4 547.8,257.8 555.3,255.9 563.7,249.4 572.2,249.4 579.6,255.9 587.1,252.2 595.6,255.0 603.1,255.0 611.5,251.6 619.9,251.2 630.0,247.8 643.0,245.2 651.4,244.2 659.2,225.1 667.6,221.2 675.4,211.5 683.2,201.1 691.0,201.1 698.7,186.9 709.2,176.9 716.2,162.8 724.3,156.4 732.3,151.1 739.4,147.7 748.5,139.6 756.5,131.0 764.6,129.6 770.6,124.9 778.7,122.5 788.8,118.5 796.9,114.4 802.9,112.8 819.0,112.8 829.1,111.4 845.3,107.3 859.1,103.8 879.9,102.8 893.7,97.6 906.9,93.1 915.0,95.0 923.1,96.6 931.1,100.3 939.2,109.5 947.3,113.4 955.3,116.4 969.2,137.6 980.7,141.1 987.6,146.9 995.7,154.9 1003.7,162.5 1011.8,172.2 1019.9,184.9 1028.0,189.5 1036.0,190.7 1044.1,196.4 1052.2,200.3 1060.2,201.0 1067.1,202.2 1075.2,198.7 1083.3,199.9 1091.4,201.7 1099.4,202.2 1107.5,202.9 1131.2,203.3 1131.2,20 0,20" fill="rgba(0,0,255,0.5)" clip-path="url(#belowP)"/><polygon points="0.0,136.1 9.5,142.5 19.0,146.6 26.9,158.3 34.9,163.1 50.7,170.0 63.4,172.6 76.0,174.2 91.9,173.2 99.8,176.4 107.7,185.3 118.8,191.6 129.9,201.1 139.4,210.5 148.9,212.5 171.1,213.1 210.1,213.2 218.6,219.5 228.1,230.5 240.8,239.8 253.5,248.8 259.8,258.6 283.6,260.2 291.5,291.9 299.4,320.4 308.5,321.6 316.5,325.4 324.4,333.3 332.3,338.1 340.3,340.6 346.6,347.6 356.1,352.4 365.6,357.1 377.3,359.9 435.3,359.9 443.9,346.5 450.8,345.5 458.6,326.1 467.3,326.1 475.1,323.5 491.5,323.5 499.3,320.9 507.5,298.1 515.0,288.7 522.5,280.9 555.3,280.9 563.7,273.7 572.2,273.7 579.6,267.7 587.1,255.9 595.6,255.0 603.1,253.1 611.5,244.7 635.8,244.2 643.0,255.3 651.4,255.3 659.2,243.7 667.6,240.7 675.4,233.8 683.2,217.7 691.0,213.5 698.7,199.2 707.8,194.0 715.2,176.9 723.3,164.8 748.5,164.8 755.5,162.8 764.6,156.8 772.7,146.7 779.7,143.7 787.8,142.7 796.9,131.6 804.9,126.5 812.0,120.5 820.0,114.8 852.2,114.9 859.1,108.0 867.8,105.6 898.9,105.6 906.9,104.2 915.0,99.6 931.1,100.3 939.2,109.5 947.3,113.4 955.3,116.4 963.4,122.7 971.5,131.9 979.5,133.5 987.6,134.2 995.7,139.5 1003.7,145.0 1011.8,153.3 1019.9,156.1 1028.0,161.2 1036.0,167.1 1044.1,171.8 1052.2,179.6 1060.2,181.4 1067.1,187.2 1075.2,187.2 1083.3,198.7 1091.4,199.4 1099.4,199.9 1107.5,202.2 1115.6,205.6 1131.2,205.6 1131.2,20 0,20" fill="rgba(255,0,0,0.5)" clip-path="url(#belowR)"/><polyline points="0.0,137.7 9.5,145.7 19.0,148.8 28.5,164.7 42.8,178.9 63.4,185.3 82.4,194.1 104.6,201.1 120.4,204.3 139.4,211.5 158.4,217.0 177.4,218.5 194.9,222.7 202.8,220.7 218.6,227.0 228.1,237.5 244.0,244.4 259.8,261.8 272.5,268.1 283.6,271.3 294.7,310.9 299.4,338.5 308.5,341.3 321.2,350.8 335.5,357.1 346.6,371.4 362.5,366.6 371.2,369.4 377.3,353.8 386.0,352.1 395.5,343.4 411.0,342.0 419.7,334.8 429.2,326.1 435.3,320.1 443.0,330.4 456.9,331.0 470.7,324.0 491.5,323.5 499.3,320.1 507.5,295.3 515.0,282.2 523.4,268.5 530.9,268.5 539.4,263.4 547.8,257.8 555.3,255.9 563.7,249.4 572.2,249.4 579.6,255.9 587.1,252.2 595.6,255.0 603.1,255.0 611.5,251.6 619.9,251.2 630.0,247.8 643.0,245.2 651.4,244.2 659.2,225.1 667.6,221.2 675.4,211.5 683.2,201.1 691.0,201.1 698.7,186.9 709.2,176.9 716.2,162.8 724.3,156.4 732.3,151.1 739.4,147.7 748.5,139.6 756.5,131.0 764.6,129.6 770.6,124.9 778.7,122.5 788.8,118.5 796.9,114.4 802.9,112.8 819.0,112.8 829.1,111.4 845.3,107.3 859.1,103.8 879.9,102.8 893.7,97.6 906.9,93.1 915.0,95.0 923.1,96.6 931.1,100.3 939.2,109.5 947.3,113.4 955.3,116.4 969.2,137.6 980.7,141.1 987.6,146.9 995.7,154.9 1003.7,162.5 1011.8,172.2 1019.9,184.9 1028.0,189.5 1036.0,190.7 1044.1,196.4 1052.2,200.3 1060.2,201.0 1067.1,202.2 1075.2,198.7 1083.3,199.9 1091.4,201.7 1099.4,202.2 1107.5,202.9 1131.2,203.3" fill="none" stroke="#f02828" stroke-opacity="0.75" stroke-width="1.1"/><polyline points="0.0,136.1 9.5,142.5 19.0,146.6 26.9,158.3 34.9,163.1 50.7,170.0 63.4,172.6 76.0,174.2 91.9,173.2 99.8,176.4 107.7,185.3 118.8,191.6 129.9,201.1 139.4,210.5 148.9,212.5 171.1,213.1 210.1,213.2 218.6,219.5 228.1,230.5 240.8,239.8 253.5,248.8 259.8,258.6 283.6,260.2 291.5,291.9 299.4,320.4 308.5,321.6 316.5,325.4 324.4,333.3 332.3,338.1 340.3,340.6 346.6,347.6 356.1,352.4 365.6,357.1 377.3,359.9 435.3,359.9 443.9,346.5 450.8,345.5 458.6,326.1 467.3,326.1 475.1,323.5 491.5,323.5 499.3,320.9 507.5,298.1 515.0,288.7 522.5,280.9 555.3,280.9 563.7,273.7 572.2,273.7 579.6,267.7 587.1,255.9 595.6,255.0 603.1,253.1 611.5,244.7 635.8,244.2 643.0,255.3 651.4,255.3 659.2,243.7 667.6,240.7 675.4,233.8 683.2,217.7 691.0,213.5 698.7,199.2 707.8,194.0 715.2,176.9 723.3,164.8 748.5,164.8 755.5,162.8 764.6,156.8 772.7,146.7 779.7,143.7 787.8,142.7 796.9,131.6 804.9,126.5 812.0,120.5 820.0,114.8 852.2,114.9 859.1,108.0 867.8,105.6 898.9,105.6 906.9,104.2 915.0,99.6 931.1,100.3 939.2,109.5 947.3,113.4 955.3,116.4 963.4,122.7 971.5,131.9 979.5,133.5 987.6,134.2 995.7,139.5 1003.7,145.0 1011.8,153.3 1019.9,156.1 1028.0,161.2 1036.0,167.1 1044.1,171.8 1052.2,179.6 1060.2,181.4 1067.1,187.2 1075.2,187.2 1083.3,198.7 1091.4,199.4 1099.4,199.9 1107.5,202.2 1115.6,205.6 1131.2,205.6" fill="none" stroke="#2828f0" stroke-opacity="0.7" stroke-width="1.1"/><path d="M0.0,182.1 C3.2,183.4 12.1,188.0 19.0,190.0 C25.9,192.0 35.1,193.0 41.2,194.1 C47.3,195.2 49.7,195.0 55.5,196.4 C61.3,197.8 67.8,199.2 76.0,202.7 C84.2,206.2 96.1,212.7 104.6,217.2 C113.0,221.7 120.9,226.2 126.7,229.6 C132.5,233.0 135.2,233.8 139.4,237.4 C143.6,241.0 146.8,245.6 152.1,251.0 C157.4,256.4 164.8,263.1 171.1,269.7 C177.4,276.2 184.3,285.8 190.1,290.3 C195.9,294.8 199.9,294.5 206.0,296.6 C212.1,298.7 220.8,302.1 226.6,303.0 C232.4,303.9 235.3,301.9 240.8,302.0 C246.3,302.1 253.5,303.2 259.8,303.9 C266.1,304.6 272.5,305.2 278.8,306.1 C285.1,307.0 291.5,307.8 297.8,309.3 C304.1,310.8 309.9,314.2 316.9,315.0 C323.9,315.8 333.8,314.8 339.9,314.1 C345.9,313.4 348.8,312.7 353.2,310.8 C357.6,308.9 362.2,305.5 366.4,302.5 C370.6,299.5 374.9,295.0 378.2,292.9 C381.5,290.8 383.3,291.1 386.0,290.1 C388.7,289.1 391.7,287.5 394.6,286.7 C397.5,285.9 399.7,285.6 403.3,285.5 C406.9,285.4 411.6,286.5 416.2,286.3 C420.8,286.1 426.7,285.1 430.9,284.3 C435.1,283.5 437.8,282.7 441.3,281.7 C444.8,280.7 448.2,279.9 451.7,278.5 C455.2,277.1 458.4,275.1 462.1,273.4 C465.9,271.7 469.9,269.9 474.2,268.2 C478.5,266.5 483.4,264.7 488.0,263.0 C492.6,261.3 496.1,260.2 501.9,257.8 C507.7,255.4 516.3,252.1 522.8,248.5 C529.3,244.9 535.5,240.7 541.0,236.4 C546.5,232.1 551.3,226.3 556.1,222.8 C560.9,219.3 564.0,219.1 570.0,215.3 C576.0,211.5 585.7,204.8 592.3,199.9 C598.9,195.0 603.5,190.0 609.4,186.0 C615.3,182.0 620.9,179.3 627.6,175.9 C634.3,172.5 643.1,169.2 649.8,165.8 C656.5,162.5 661.2,158.5 667.9,155.8 C674.6,153.1 682.3,152.4 690.0,149.7 C697.7,147.0 707.5,142.3 714.2,139.6 C720.9,136.9 724.9,135.6 730.3,133.6 C735.7,131.6 741.5,129.5 746.5,127.5 C751.5,125.5 755.2,122.8 760.6,121.5 C766.0,120.2 772.7,119.7 778.7,119.5 C784.8,119.3 791.5,119.7 796.9,120.5 C802.3,121.3 806.0,122.8 811.0,124.5 C816.0,126.2 822.3,128.8 827.1,130.6 C831.9,132.4 833.2,132.4 840.0,135.6 C846.8,138.8 860.3,146.1 867.8,150.0 C875.2,153.9 878.2,156.4 884.7,159.1 C891.2,161.8 898.9,164.4 906.7,166.2 C914.5,168.0 924.5,168.8 931.4,170.1 C938.3,171.4 942.6,172.3 948.2,174.0 C953.8,175.7 958.6,178.4 965.1,180.5 C971.6,182.6 983.4,185.6 987.1,186.6" fill="none" stroke="#1a7fd0" stroke-width="1.2"/><line x1="0" y1="218.5" x2="1308" y2="218.5" stroke="#b8003a" stroke-width="1.5"/><line x1="0" y1="241.5" x2="1308" y2="241.5" stroke="#58b5be" stroke-width="1.1" stroke-dasharray="10 3.08" stroke-dashoffset="1.08"/></g><line x1="1308.5" y1="31" x2="1308.5" y2="455" stroke="#000" stroke-width="1.3"/><line x1="0" y1="454.5" x2="1309" y2="454.5" stroke="#000" stroke-width="1.3"/><line x1="1308" y1="57.4" x2="1311" y2="57.4" stroke="#000" stroke-width="1"/><text x="1313.5" y="61.0" font-family="Liberation Sans" font-size="10" fill="#111">112.093</text><line x1="1308" y1="83.9" x2="1311" y2="83.9" stroke="#000" stroke-width="1"/><text x="1313.5" y="87.5" font-family="Liberation Sans" font-size="10" fill="#111">111.346</text><line x1="1308" y1="110.4" x2="1311" y2="110.4" stroke="#000" stroke-width="1"/><text x="1313.5" y="114.0" font-family="Liberation Sans" font-size="10" fill="#111">110.600</text><line x1="1308" y1="136.9" x2="1311" y2="136.9" stroke="#000" stroke-width="1"/><text x="1313.5" y="140.5" font-family="Liberation Sans" font-size="10" fill="#111">109.853</text><line x1="1308" y1="163.4" x2="1311" y2="163.4" stroke="#000" stroke-width="1"/><text x="1313.5" y="167.0" font-family="Liberation Sans" font-size="10" fill="#111">109.107</text><line x1="1308" y1="190.0" x2="1311" y2="190.0" stroke="#000" stroke-width="1"/><text x="1313.5" y="193.6" font-family="Liberation Sans" font-size="10" fill="#111">108.360</text><line x1="1308" y1="216.5" x2="1311" y2="216.5" stroke="#000" stroke-width="1"/><line x1="1308" y1="243.0" x2="1311" y2="243.0" stroke="#000" stroke-width="1"/><line x1="1308" y1="269.5" x2="1311" y2="269.5" stroke="#000" stroke-width="1"/><text x="1313.5" y="273.1" font-family="Liberation Sans" font-size="10" fill="#111">106.120</text><line x1="1308" y1="296.0" x2="1311" y2="296.0" stroke="#000" stroke-width="1"/><text x="1313.5" y="299.6" font-family="Liberation Sans" font-size="10" fill="#111">105.374</text><line x1="1308" y1="322.5" x2="1311" y2="322.5" stroke="#000" stroke-width="1"/><text x="1313.5" y="326.1" font-family="Liberation Sans" font-size="10" fill="#111">104.627</text><line x1="1308" y1="349.0" x2="1311" y2="349.0" stroke="#000" stroke-width="1"/><text x="1313.5" y="352.6" font-family="Liberation Sans" font-size="10" fill="#111">103.881</text><line x1="1308" y1="375.5" x2="1311" y2="375.5" stroke="#000" stroke-width="1"/><text x="1313.5" y="379.1" font-family="Liberation Sans" font-size="10" fill="#111">103.134</text><line x1="1308" y1="402.0" x2="1311" y2="402.0" stroke="#000" stroke-width="1"/><text x="1313.5" y="405.6" font-family="Liberation Sans" font-size="10" fill="#111">102.388</text><line x1="1308" y1="428.5" x2="1311" y2="428.5" stroke="#000" stroke-width="1"/><text x="1313.5" y="432.1" font-family="Liberation Sans" font-size="10" fill="#111">101.641</text><polyline points="1292.5,41.5 1297.5,41.5 1297.5,130.5 1292.5,130.5" fill="none" stroke="#000" stroke-width="1"/><text transform="translate(1293.8,82.5) rotate(-90)" text-anchor="middle" font-family="Liberation Sans" font-size="9.6" fill="#111">250 points</text><rect x="1308" y="211" width="45" height="14" fill="#a8002e"/><text x="1314" y="222" font-family="Liberation Sans" font-size="10" font-weight="bold" fill="#fff">107.54<tspan font-size="8">3</tspan></text><rect x="1308" y="233" width="45" height="16" fill="#00a9b4"/><text x="1314" y="244.5" font-family="Liberation Sans" font-size="10" fill="#0d2a30">Target</text><line x1="59.5" y1="455" x2="59.5" y2="457" stroke="#000" stroke-width="1"/><line x1="91.5" y1="455" x2="91.5" y2="457" stroke="#000" stroke-width="1"/><line x1="123.5" y1="455" x2="123.5" y2="457" stroke="#000" stroke-width="1"/><line x1="155.5" y1="455" x2="155.5" y2="457" stroke="#000" stroke-width="1"/><line x1="187.5" y1="455" x2="187.5" y2="457" stroke="#000" stroke-width="1"/><line x1="219.5" y1="455" x2="219.5" y2="457" stroke="#000" stroke-width="1"/><line x1="251.5" y1="455" x2="251.5" y2="457" stroke="#000" stroke-width="1"/><line x1="283.5" y1="455" x2="283.5" y2="457" stroke="#000" stroke-width="1"/><line x1="315.5" y1="455" x2="315.5" y2="457" stroke="#000" stroke-width="1"/><line x1="347.5" y1="455" x2="347.5" y2="457" stroke="#000" stroke-width="1"/><line x1="379.5" y1="455" x2="379.5" y2="457" stroke="#000" stroke-width="1"/><line x1="411.5" y1="455" x2="411.5" y2="457" stroke="#000" stroke-width="1"/><line x1="443.5" y1="455" x2="443.5" y2="457" stroke="#000" stroke-width="1"/><line x1="475.5" y1="455" x2="475.5" y2="457" stroke="#000" stroke-width="1"/><line x1="507.5" y1="455" x2="507.5" y2="457" stroke="#000" stroke-width="1"/><line x1="539.5" y1="455" x2="539.5" y2="457" stroke="#000" stroke-width="1"/><line x1="571.5" y1="455" x2="571.5" y2="457" stroke="#000" stroke-width="1"/><line x1="603.5" y1="455" x2="603.5" y2="457" stroke="#000" stroke-width="1"/><line x1="635.5" y1="455" x2="635.5" y2="457" stroke="#000" stroke-width="1"/><line x1="667.5" y1="455" x2="667.5" y2="457" stroke="#000" stroke-width="1"/><line x1="699.5" y1="455" x2="699.5" y2="457" stroke="#000" stroke-width="1"/><line x1="731.5" y1="455" x2="731.5" y2="457" stroke="#000" stroke-width="1"/><line x1="763.5" y1="455" x2="763.5" y2="457" stroke="#000" stroke-width="1"/><line x1="795.5" y1="455" x2="795.5" y2="457" stroke="#000" stroke-width="1"/><line x1="827.5" y1="455" x2="827.5" y2="457" stroke="#000" stroke-width="1"/><line x1="859.5" y1="455" x2="859.5" y2="457" stroke="#000" stroke-width="1"/><line x1="891.5" y1="455" x2="891.5" y2="457" stroke="#000" stroke-width="1"/><line x1="923.5" y1="455" x2="923.5" y2="457" stroke="#000" stroke-width="1"/><line x1="955.5" y1="455" x2="955.5" y2="457" stroke="#000" stroke-width="1"/><line x1="987.5" y1="455" x2="987.5" y2="457" stroke="#000" stroke-width="1"/><line x1="1019.5" y1="455" x2="1019.5" y2="457" stroke="#000" stroke-width="1"/><line x1="1051.5" y1="455" x2="1051.5" y2="457" stroke="#000" stroke-width="1"/><line x1="1083.5" y1="455" x2="1083.5" y2="457" stroke="#000" stroke-width="1"/><line x1="1115.5" y1="455" x2="1115.5" y2="457" stroke="#000" stroke-width="1"/><line x1="1147.5" y1="455" x2="1147.5" y2="457" stroke="#000" stroke-width="1"/><line x1="1179.5" y1="455" x2="1179.5" y2="457" stroke="#000" stroke-width="1"/><line x1="1211.5" y1="455" x2="1211.5" y2="457" stroke="#000" stroke-width="1"/><line x1="1243.5" y1="455" x2="1243.5" y2="457" stroke="#000" stroke-width="1"/><line x1="1275.5" y1="455" x2="1275.5" y2="457" stroke="#000" stroke-width="1"/><line x1="1307.5" y1="455" x2="1307.5" y2="457" stroke="#000" stroke-width="1"/><text x="1.3" y="468" font-family="Liberation Sans" font-size="9.6" letter-spacing="0.15" fill="#111">3 Mar 2020, UTC+1</text><text x="121.5" y="468" font-family="Liberation Sans" font-size="9.6" letter-spacing="0.15" fill="#111">6 Mar</text><text x="185.5" y="468" font-family="Liberation Sans" font-size="9.6" letter-spacing="0.15" fill="#111">9 Mar</text><text x="249.5" y="468" font-family="Liberation Sans" font-size="9.6" letter-spacing="0.15" fill="#111">11 Mar</text><text x="313.5" y="468" font-family="Liberation Sans" font-size="9.6" letter-spacing="0.15" fill="#111">12 Mar</text><text x="377.5" y="468" font-family="Liberation Sans" font-size="9.6" letter-spacing="0.15" fill="#111">13 Mar</text><text x="441.5" y="468" font-family="Liberation Sans" font-size="9.6" letter-spacing="0.15" fill="#111">17 Mar</text><text x="505.5" y="468" font-family="Liberation Sans" font-size="9.6" letter-spacing="0.15" fill="#111">18 Mar</text><text x="569.5" y="468" font-family="Liberation Sans" font-size="9.6" letter-spacing="0.15" fill="#111">19 Mar</text><text x="633.5" y="468" font-family="Liberation Sans" font-size="9.6" letter-spacing="0.15" fill="#111">23 Mar</text><text x="697.5" y="468" font-family="Liberation Sans" font-size="9.6" letter-spacing="0.15" fill="#111">24 Mar</text><text x="761.5" y="468" font-family="Liberation Sans" font-size="9.6" letter-spacing="0.15" fill="#111">25 Mar</text><text x="825.5" y="468" font-family="Liberation Sans" font-size="9.6" letter-spacing="0.15" fill="#111">27 Mar</text><text x="889.5" y="468" font-family="Liberation Sans" font-size="9.6" letter-spacing="0.15" fill="#111">30 Mar</text><text x="953.5" y="468" font-family="Liberation Sans" font-size="9.6" letter-spacing="0.15" fill="#111">31 Mar</text><text x="1017.5" y="468" font-family="Liberation Sans" font-size="9.6" letter-spacing="0.15" fill="#111">2 Apr</text><text x="1081.5" y="468" font-family="Liberation Sans" font-size="9.6" letter-spacing="0.15" fill="#111">3 Apr</text><text x="1145.5" y="468" font-family="Liberation Sans" font-size="9.6" letter-spacing="0.15" fill="#111">4 Apr</text><text x="1209.5" y="468" font-family="Liberation Sans" font-size="9.6" letter-spacing="0.15" fill="#111">6 Apr</text><text x="1273.5" y="468" font-family="Liberation Sans" font-size="9.6" letter-spacing="0.15" fill="#111">7 Apr</text><rect x="965" y="448" width="41" height="11.7" rx="1" fill="#1d2225"/><polygon points="983.6,448.2 987.2,443.4 990.8,448.2" fill="#1d2225"/><text x="981.8" y="457.8" font-family="Liberation Sans" font-size="9.6" fill="#9ea6aa">3h</text><rect x="967" y="450" width="1" height="1" fill="#8a9498"/><rect x="969" y="450" width="1" height="1" fill="#8a9498"/><rect x="967" y="452" width="1" height="1" fill="#8a9498"/><rect x="969" y="452" width="1" height="1" fill="#8a9498"/><rect x="967" y="454" width="1" height="1" fill="#8a9498"/><rect x="969" y="454" width="1" height="1" fill="#8a9498"/><rect x="967" y="456" width="1" height="1" fill="#8a9498"/><rect x="969" y="456" width="1" height="1" fill="#8a9498"/><rect x="967" y="458" width="1" height="1" fill="#8a9498"/><rect x="969" y="458" width="1" height="1" fill="#8a9498"/><rect x="0" y="472" width="1353" height="5" fill="#37474f"/><rect x="0" y="590" width="1353" height="5" fill="#37474f"/><rect x="0" y="691" width="1353" height="3" fill="#37474f"/><rect x="1309" y="31" width="1.5" height="1" fill="#000"/><rect x="1309" y="477" width="1.5" height="1" fill="#000"/><rect x="1309" y="595" width="1.5" height="1" fill="#000"/><line x1="1308.5" y1="477" x2="1308.5" y2="590" stroke="#000" stroke-width="1.3"/><line x1="1308.5" y1="595" x2="1308.5" y2="691" stroke="#000" stroke-width="1.3"/><line x1="1308" y1="505.2" x2="1311" y2="505.2" stroke="#000" stroke-width="1"/><text x="1313" y="508.8" font-family="Liberation Sans" font-size="10" fill="#111">0.28010</text><line x1="1308" y1="533.7" x2="1311" y2="533.7" stroke="#000" stroke-width="1"/><text x="1313" y="537.3" font-family="Liberation Sans" font-size="10" fill="#111">-0.02080</text><line x1="1308" y1="562.2" x2="1311" y2="562.2" stroke="#000" stroke-width="1"/><text x="1313" y="565.8" font-family="Liberation Sans" font-size="10" fill="#111">-0.32170</text><line x1="1308" y1="627" x2="1311" y2="627" stroke="#000" stroke-width="1"/><text x="1313" y="630.6" font-family="Liberation Sans" font-size="10" fill="#111">0.34340</text><line x1="1308" y1="658.7" x2="1311" y2="658.7" stroke="#000" stroke-width="1"/><text x="1313" y="662.3" font-family="Liberation Sans" font-size="10" fill="#111">-0.62435</text><path d="M1344.5,487.8 l5,5 M1349.5,487.8 l-5,5" stroke="#fff" stroke-width="1.4"/><path d="M1344.5,605.9 l5,5 M1349.5,605.9 l-5,5" stroke="#fff" stroke-width="1.4"/><line x1="3.5" y1="530.5" x2="3.5" y2="541.3" stroke="#000" stroke-width="1"/><line x1="11.5" y1="530.5" x2="11.5" y2="537.9" stroke="#000" stroke-width="1"/><line x1="19.5" y1="530.5" x2="19.5" y2="534.8" stroke="#000" stroke-width="1"/><line x1="27.5" y1="530.5" x2="27.5" y2="532.8" stroke="#000" stroke-width="1"/><line x1="35.5" y1="530.5" x2="35.5" y2="532.8" stroke="#000" stroke-width="1"/><line x1="51.5" y1="530.5" x2="51.5" y2="531.6" stroke="#000" stroke-width="1"/><line x1="59.5" y1="530.5" x2="59.5" y2="532.8" stroke="#000" stroke-width="1"/><line x1="67.5" y1="530.5" x2="67.5" y2="539.6" stroke="#000" stroke-width="1"/><line x1="75.5" y1="530.5" x2="75.5" y2="542.8" stroke="#000" stroke-width="1"/><line x1="83.5" y1="530.5" x2="83.5" y2="550.6" stroke="#000" stroke-width="1"/><line x1="91.5" y1="530.5" x2="91.5" y2="551.8" stroke="#000" stroke-width="1"/><line x1="99.5" y1="530.5" x2="99.5" y2="551.8" stroke="#000" stroke-width="1"/><line x1="107.5" y1="530.5" x2="107.5" y2="550.6" stroke="#000" stroke-width="1"/><line x1="115.5" y1="530.5" x2="115.5" y2="557.4" stroke="#000" stroke-width="1"/><line x1="123.5" y1="530.5" x2="123.5" y2="553.5" stroke="#000" stroke-width="1"/><line x1="131.5" y1="530.5" x2="131.5" y2="545.7" stroke="#000" stroke-width="1"/><line x1="139.5" y1="530.5" x2="139.5" y2="542.8" stroke="#000" stroke-width="1"/><line x1="147.5" y1="530.5" x2="147.5" y2="558.4" stroke="#000" stroke-width="1"/><line x1="155.5" y1="530.5" x2="155.5" y2="580.4" stroke="#000" stroke-width="1"/><line x1="163.5" y1="530.5" x2="163.5" y2="584.3" stroke="#000" stroke-width="1"/><line x1="171.5" y1="530.5" x2="171.5" y2="580.4" stroke="#000" stroke-width="1"/><line x1="179.5" y1="530.5" x2="179.5" y2="573.8" stroke="#000" stroke-width="1"/><line x1="187.5" y1="530.5" x2="187.5" y2="560.4" stroke="#000" stroke-width="1"/><line x1="195.5" y1="530.5" x2="195.5" y2="534.8" stroke="#000" stroke-width="1"/><line x1="203.5" y1="530.5" x2="203.5" y2="512.1" stroke="#000" stroke-width="1"/><line x1="211.5" y1="530.5" x2="211.5" y2="504.3" stroke="#000" stroke-width="1"/><line x1="219.5" y1="530.5" x2="219.5" y2="510.4" stroke="#000" stroke-width="1"/><line x1="227.5" y1="530.5" x2="227.5" y2="514.0" stroke="#000" stroke-width="1"/><line x1="235.5" y1="530.5" x2="235.5" y2="498.2" stroke="#000" stroke-width="1"/><line x1="243.5" y1="530.5" x2="243.5" y2="509.1" stroke="#000" stroke-width="1"/><line x1="251.5" y1="530.5" x2="251.5" y2="524.3" stroke="#000" stroke-width="1"/><line x1="259.5" y1="530.5" x2="259.5" y2="517.0" stroke="#000" stroke-width="1"/><line x1="275.5" y1="530.5" x2="275.5" y2="526.2" stroke="#000" stroke-width="1"/><line x1="283.5" y1="530.5" x2="283.5" y2="534.8" stroke="#000" stroke-width="1"/><line x1="291.5" y1="530.5" x2="291.5" y2="534.8" stroke="#000" stroke-width="1"/><line x1="299.5" y1="530.5" x2="299.5" y2="542.8" stroke="#000" stroke-width="1"/><line x1="307.5" y1="530.5" x2="307.5" y2="547.7" stroke="#000" stroke-width="1"/><line x1="315.5" y1="530.5" x2="315.5" y2="542.8" stroke="#000" stroke-width="1"/><line x1="323.5" y1="530.5" x2="323.5" y2="519.2" stroke="#000" stroke-width="1"/><line x1="331.5" y1="530.5" x2="331.5" y2="524.0" stroke="#000" stroke-width="1"/><line x1="339.5" y1="530.5" x2="339.5" y2="519.0" stroke="#000" stroke-width="1"/><line x1="347.5" y1="530.5" x2="347.5" y2="512.2" stroke="#000" stroke-width="1"/><line x1="355.5" y1="530.5" x2="355.5" y2="508.2" stroke="#000" stroke-width="1"/><line x1="363.5" y1="530.5" x2="363.5" y2="488.1" stroke="#000" stroke-width="1"/><line x1="371.5" y1="530.5" x2="371.5" y2="482.0" stroke="#000" stroke-width="1"/><line x1="379.5" y1="530.5" x2="379.5" y2="485.1" stroke="#000" stroke-width="1"/><line x1="387.5" y1="530.5" x2="387.5" y2="510.2" stroke="#000" stroke-width="1"/><line x1="395.5" y1="530.5" x2="395.5" y2="522.8" stroke="#000" stroke-width="1"/><line x1="403.5" y1="530.5" x2="403.5" y2="541.6" stroke="#000" stroke-width="1"/><line x1="411.5" y1="530.5" x2="411.5" y2="557.4" stroke="#000" stroke-width="1"/><line x1="419.5" y1="530.5" x2="419.5" y2="551.7" stroke="#000" stroke-width="1"/><line x1="427.5" y1="530.5" x2="427.5" y2="544.9" stroke="#000" stroke-width="1"/><line x1="435.5" y1="530.5" x2="435.5" y2="528.3" stroke="#000" stroke-width="1"/><line x1="443.5" y1="530.5" x2="443.5" y2="522.8" stroke="#000" stroke-width="1"/><line x1="451.5" y1="530.5" x2="451.5" y2="519.0" stroke="#000" stroke-width="1"/><line x1="459.5" y1="530.5" x2="459.5" y2="515.7" stroke="#000" stroke-width="1"/><line x1="467.5" y1="530.5" x2="467.5" y2="510.2" stroke="#000" stroke-width="1"/><line x1="475.5" y1="530.5" x2="475.5" y2="510.2" stroke="#000" stroke-width="1"/><line x1="483.5" y1="530.5" x2="483.5" y2="518.2" stroke="#000" stroke-width="1"/><line x1="491.5" y1="530.5" x2="491.5" y2="525.3" stroke="#000" stroke-width="1"/><line x1="499.5" y1="530.5" x2="499.5" y2="522.8" stroke="#000" stroke-width="1"/><line x1="507.5" y1="530.5" x2="507.5" y2="521.7" stroke="#000" stroke-width="1"/><line x1="515.5" y1="530.5" x2="515.5" y2="512.2" stroke="#000" stroke-width="1"/><line x1="523.5" y1="530.5" x2="523.5" y2="517.2" stroke="#000" stroke-width="1"/><line x1="531.5" y1="530.5" x2="531.5" y2="508.9" stroke="#000" stroke-width="1"/><line x1="539.5" y1="530.5" x2="539.5" y2="506.4" stroke="#000" stroke-width="1"/><line x1="547.5" y1="530.5" x2="547.5" y2="512.2" stroke="#000" stroke-width="1"/><line x1="555.5" y1="530.5" x2="555.5" y2="503.1" stroke="#000" stroke-width="1"/><line x1="563.5" y1="530.5" x2="563.5" y2="498.1" stroke="#000" stroke-width="1"/><line x1="571.5" y1="530.5" x2="571.5" y2="493.8" stroke="#000" stroke-width="1"/><line x1="579.5" y1="530.5" x2="579.5" y2="492.1" stroke="#000" stroke-width="1"/><line x1="587.5" y1="530.5" x2="587.5" y2="517.2" stroke="#000" stroke-width="1"/><line x1="595.5" y1="530.5" x2="595.5" y2="528.3" stroke="#000" stroke-width="1"/><line x1="603.5" y1="530.5" x2="603.5" y2="524.8" stroke="#000" stroke-width="1"/><line x1="611.5" y1="530.5" x2="611.5" y2="508.2" stroke="#000" stroke-width="1"/><line x1="619.5" y1="530.5" x2="619.5" y2="517.2" stroke="#000" stroke-width="1"/><line x1="627.5" y1="530.5" x2="627.5" y2="525.8" stroke="#000" stroke-width="1"/><line x1="635.5" y1="530.5" x2="635.5" y2="537.8" stroke="#000" stroke-width="1"/><line x1="643.5" y1="530.5" x2="643.5" y2="538.3" stroke="#000" stroke-width="1"/><line x1="651.5" y1="530.5" x2="651.5" y2="537.6" stroke="#000" stroke-width="1"/><line x1="659.5" y1="530.5" x2="659.5" y2="519.3" stroke="#000" stroke-width="1"/><line x1="667.5" y1="530.5" x2="667.5" y2="515.6" stroke="#000" stroke-width="1"/><line x1="675.5" y1="530.5" x2="675.5" y2="529.3" stroke="#000" stroke-width="1"/><line x1="683.5" y1="530.5" x2="683.5" y2="537.1" stroke="#000" stroke-width="1"/><line x1="691.5" y1="530.5" x2="691.5" y2="531.4" stroke="#000" stroke-width="1"/><line x1="699.5" y1="530.5" x2="699.5" y2="529.3" stroke="#000" stroke-width="1"/><line x1="707.5" y1="530.5" x2="707.5" y2="517.7" stroke="#000" stroke-width="1"/><line x1="715.5" y1="530.5" x2="715.5" y2="520.3" stroke="#000" stroke-width="1"/><line x1="723.5" y1="530.5" x2="723.5" y2="526.2" stroke="#000" stroke-width="1"/><line x1="731.5" y1="530.5" x2="731.5" y2="524.1" stroke="#000" stroke-width="1"/><line x1="739.5" y1="530.5" x2="739.5" y2="524.1" stroke="#000" stroke-width="1"/><line x1="747.5" y1="530.5" x2="747.5" y2="525.4" stroke="#000" stroke-width="1"/><line x1="755.5" y1="530.5" x2="755.5" y2="525.4" stroke="#000" stroke-width="1"/><line x1="771.5" y1="530.5" x2="771.5" y2="539.7" stroke="#000" stroke-width="1"/><line x1="779.5" y1="530.5" x2="779.5" y2="541.7" stroke="#000" stroke-width="1"/><line x1="787.5" y1="530.5" x2="787.5" y2="549.5" stroke="#000" stroke-width="1"/><line x1="795.5" y1="530.5" x2="795.5" y2="556.5" stroke="#000" stroke-width="1"/><line x1="803.5" y1="530.5" x2="803.5" y2="557.3" stroke="#000" stroke-width="1"/><line x1="811.5" y1="530.5" x2="811.5" y2="551.6" stroke="#000" stroke-width="1"/><line x1="819.5" y1="530.5" x2="819.5" y2="554.7" stroke="#000" stroke-width="1"/><line x1="827.5" y1="530.5" x2="827.5" y2="562.4" stroke="#000" stroke-width="1"/><line x1="835.5" y1="530.5" x2="835.5" y2="551.3" stroke="#000" stroke-width="1"/><line x1="843.5" y1="530.5" x2="843.5" y2="546.1" stroke="#000" stroke-width="1"/><line x1="851.5" y1="530.5" x2="851.5" y2="553.9" stroke="#000" stroke-width="1"/><line x1="859.5" y1="530.5" x2="859.5" y2="553.9" stroke="#000" stroke-width="1"/><line x1="867.5" y1="530.5" x2="867.5" y2="557.3" stroke="#000" stroke-width="1"/><line x1="875.5" y1="530.5" x2="875.5" y2="552.1" stroke="#000" stroke-width="1"/><line x1="883.5" y1="530.5" x2="883.5" y2="546.1" stroke="#000" stroke-width="1"/><line x1="891.5" y1="530.5" x2="891.5" y2="532.4" stroke="#000" stroke-width="1"/><line x1="899.5" y1="530.5" x2="899.5" y2="534.0" stroke="#000" stroke-width="1"/><line x1="907.5" y1="530.5" x2="907.5" y2="534.5" stroke="#000" stroke-width="1"/><line x1="915.5" y1="530.5" x2="915.5" y2="522.9" stroke="#000" stroke-width="1"/><line x1="923.5" y1="530.5" x2="923.5" y2="525.4" stroke="#000" stroke-width="1"/><line x1="931.5" y1="530.5" x2="931.5" y2="522.9" stroke="#000" stroke-width="1"/><line x1="939.5" y1="530.5" x2="939.5" y2="525.4" stroke="#000" stroke-width="1"/><line x1="947.5" y1="530.5" x2="947.5" y2="537.1" stroke="#000" stroke-width="1"/><line x1="955.5" y1="530.5" x2="955.5" y2="543.5" stroke="#000" stroke-width="1"/><line x1="963.5" y1="530.5" x2="963.5" y2="544.3" stroke="#000" stroke-width="1"/><line x1="971.5" y1="530.5" x2="971.5" y2="538.4" stroke="#000" stroke-width="1"/><line x1="979.5" y1="530.5" x2="979.5" y2="539.1" stroke="#000" stroke-width="1"/><line x1="987.5" y1="530.5" x2="987.5" y2="537.1" stroke="#000" stroke-width="1"/><line x1="3.5" y1="637.2" x2="3.5" y2="659.1" stroke="#000" stroke-width="1"/><line x1="11.5" y1="637.2" x2="11.5" y2="658.4" stroke="#000" stroke-width="1"/><line x1="19.5" y1="637.2" x2="19.5" y2="657.4" stroke="#000" stroke-width="1"/><line x1="27.5" y1="637.2" x2="27.5" y2="656.6" stroke="#000" stroke-width="1"/><line x1="35.5" y1="637.2" x2="35.5" y2="656.6" stroke="#000" stroke-width="1"/><line x1="43.5" y1="637.2" x2="43.5" y2="654.8" stroke="#000" stroke-width="1"/><line x1="51.5" y1="637.2" x2="51.5" y2="654.8" stroke="#000" stroke-width="1"/><line x1="59.5" y1="637.2" x2="59.5" y2="653.3" stroke="#000" stroke-width="1"/><line x1="67.5" y1="637.2" x2="67.5" y2="653.3" stroke="#000" stroke-width="1"/><line x1="75.5" y1="637.2" x2="75.5" y2="654.8" stroke="#000" stroke-width="1"/><line x1="83.5" y1="637.2" x2="83.5" y2="656.6" stroke="#000" stroke-width="1"/><line x1="91.5" y1="637.2" x2="91.5" y2="657.9" stroke="#000" stroke-width="1"/><line x1="99.5" y1="637.2" x2="99.5" y2="658.4" stroke="#000" stroke-width="1"/><line x1="107.5" y1="637.2" x2="107.5" y2="660.4" stroke="#000" stroke-width="1"/><line x1="115.5" y1="637.2" x2="115.5" y2="662.9" stroke="#000" stroke-width="1"/><line x1="123.5" y1="637.2" x2="123.5" y2="663.4" stroke="#000" stroke-width="1"/><line x1="131.5" y1="637.2" x2="131.5" y2="664.9" stroke="#000" stroke-width="1"/><line x1="139.5" y1="637.2" x2="139.5" y2="664.9" stroke="#000" stroke-width="1"/><line x1="147.5" y1="637.2" x2="147.5" y2="667.4" stroke="#000" stroke-width="1"/><line x1="155.5" y1="637.2" x2="155.5" y2="672.4" stroke="#000" stroke-width="1"/><line x1="163.5" y1="637.2" x2="163.5" y2="677.5" stroke="#000" stroke-width="1"/><line x1="171.5" y1="637.2" x2="171.5" y2="681.7" stroke="#000" stroke-width="1"/><line x1="179.5" y1="637.2" x2="179.5" y2="684.2" stroke="#000" stroke-width="1"/><line x1="187.5" y1="637.2" x2="187.5" y2="685.5" stroke="#000" stroke-width="1"/><line x1="195.5" y1="637.2" x2="195.5" y2="683.5" stroke="#000" stroke-width="1"/><line x1="203.5" y1="637.2" x2="203.5" y2="679.2" stroke="#000" stroke-width="1"/><line x1="211.5" y1="637.2" x2="211.5" y2="674.2" stroke="#000" stroke-width="1"/><line x1="219.5" y1="637.2" x2="219.5" y2="670.4" stroke="#000" stroke-width="1"/><line x1="227.5" y1="637.2" x2="227.5" y2="667.4" stroke="#000" stroke-width="1"/><line x1="235.5" y1="637.2" x2="235.5" y2="661.6" stroke="#000" stroke-width="1"/><line x1="243.5" y1="637.2" x2="243.5" y2="657.4" stroke="#000" stroke-width="1"/><line x1="251.5" y1="637.2" x2="251.5" y2="656.6" stroke="#000" stroke-width="1"/><line x1="259.5" y1="637.2" x2="259.5" y2="652.3" stroke="#000" stroke-width="1"/><line x1="267.5" y1="637.2" x2="267.5" y2="651.6" stroke="#000" stroke-width="1"/><line x1="275.5" y1="637.2" x2="275.5" y2="649.8" stroke="#000" stroke-width="1"/><line x1="283.5" y1="637.2" x2="283.5" y2="649.8" stroke="#000" stroke-width="1"/><line x1="291.5" y1="637.2" x2="291.5" y2="649.1" stroke="#000" stroke-width="1"/><line x1="299.5" y1="637.2" x2="299.5" y2="649.1" stroke="#000" stroke-width="1"/><line x1="307.5" y1="637.2" x2="307.5" y2="649.1" stroke="#000" stroke-width="1"/><line x1="315.5" y1="637.2" x2="315.5" y2="649.1" stroke="#000" stroke-width="1"/><line x1="323.5" y1="637.2" x2="323.5" y2="646.5" stroke="#000" stroke-width="1"/><line x1="331.5" y1="637.2" x2="331.5" y2="645.3" stroke="#000" stroke-width="1"/><line x1="339.5" y1="637.2" x2="339.5" y2="643.3" stroke="#000" stroke-width="1"/><line x1="347.5" y1="637.2" x2="347.5" y2="640.3" stroke="#000" stroke-width="1"/><line x1="363.5" y1="637.2" x2="363.5" y2="631.5" stroke="#000" stroke-width="1"/><line x1="371.5" y1="637.2" x2="371.5" y2="625.2" stroke="#000" stroke-width="1"/><line x1="379.5" y1="637.2" x2="379.5" y2="620.2" stroke="#000" stroke-width="1"/><line x1="387.5" y1="637.2" x2="387.5" y2="618.1" stroke="#000" stroke-width="1"/><line x1="395.5" y1="637.2" x2="395.5" y2="618.1" stroke="#000" stroke-width="1"/><line x1="403.5" y1="637.2" x2="403.5" y2="620.2" stroke="#000" stroke-width="1"/><line x1="411.5" y1="637.2" x2="411.5" y2="623.9" stroke="#000" stroke-width="1"/><line x1="419.5" y1="637.2" x2="419.5" y2="626.4" stroke="#000" stroke-width="1"/><line x1="427.5" y1="637.2" x2="427.5" y2="627.2" stroke="#000" stroke-width="1"/><line x1="435.5" y1="637.2" x2="435.5" y2="626.4" stroke="#000" stroke-width="1"/><line x1="443.5" y1="637.2" x2="443.5" y2="626.4" stroke="#000" stroke-width="1"/><line x1="451.5" y1="637.2" x2="451.5" y2="625.2" stroke="#000" stroke-width="1"/><line x1="459.5" y1="637.2" x2="459.5" y2="623.9" stroke="#000" stroke-width="1"/><line x1="467.5" y1="637.2" x2="467.5" y2="622.2" stroke="#000" stroke-width="1"/><line x1="475.5" y1="637.2" x2="475.5" y2="620.2" stroke="#000" stroke-width="1"/><line x1="483.5" y1="637.2" x2="483.5" y2="620.2" stroke="#000" stroke-width="1"/><line x1="491.5" y1="637.2" x2="491.5" y2="620.2" stroke="#000" stroke-width="1"/><line x1="499.5" y1="637.2" x2="499.5" y2="620.2" stroke="#000" stroke-width="1"/><line x1="507.5" y1="637.2" x2="507.5" y2="619.4" stroke="#000" stroke-width="1"/><line x1="515.5" y1="637.2" x2="515.5" y2="617.1" stroke="#000" stroke-width="1"/><line x1="523.5" y1="637.2" x2="523.5" y2="617.1" stroke="#000" stroke-width="1"/><line x1="531.5" y1="637.2" x2="531.5" y2="615.1" stroke="#000" stroke-width="1"/><line x1="539.5" y1="637.2" x2="539.5" y2="613.1" stroke="#000" stroke-width="1"/><line x1="547.5" y1="637.2" x2="547.5" y2="612.1" stroke="#000" stroke-width="1"/><line x1="555.5" y1="637.2" x2="555.5" y2="609.1" stroke="#000" stroke-width="1"/><line x1="563.5" y1="637.2" x2="563.5" y2="606.3" stroke="#000" stroke-width="1"/><line x1="571.5" y1="637.2" x2="571.5" y2="603.1" stroke="#000" stroke-width="1"/><line x1="579.5" y1="637.2" x2="579.5" y2="600.1" stroke="#000" stroke-width="1"/><line x1="587.5" y1="637.2" x2="587.5" y2="601.3" stroke="#000" stroke-width="1"/><line x1="595.5" y1="637.2" x2="595.5" y2="602.1" stroke="#000" stroke-width="1"/><line x1="603.5" y1="637.2" x2="603.5" y2="602.1" stroke="#000" stroke-width="1"/><line x1="611.5" y1="637.2" x2="611.5" y2="600.1" stroke="#000" stroke-width="1"/><line x1="619.5" y1="637.2" x2="619.5" y2="600.1" stroke="#000" stroke-width="1"/><line x1="627.5" y1="637.2" x2="627.5" y2="601.8" stroke="#000" stroke-width="1"/><line x1="635.5" y1="637.2" x2="635.5" y2="604.3" stroke="#000" stroke-width="1"/><line x1="643.5" y1="637.2" x2="643.5" y2="607.1" stroke="#000" stroke-width="1"/><line x1="651.5" y1="637.2" x2="651.5" y2="608.8" stroke="#000" stroke-width="1"/><line x1="659.5" y1="637.2" x2="659.5" y2="608.1" stroke="#000" stroke-width="1"/><line x1="667.5" y1="637.2" x2="667.5" y2="607.1" stroke="#000" stroke-width="1"/><line x1="675.5" y1="637.2" x2="675.5" y2="610.1" stroke="#000" stroke-width="1"/><line x1="683.5" y1="637.2" x2="683.5" y2="612.1" stroke="#000" stroke-width="1"/><line x1="691.5" y1="637.2" x2="691.5" y2="613.1" stroke="#000" stroke-width="1"/><line x1="699.5" y1="637.2" x2="699.5" y2="613.9" stroke="#000" stroke-width="1"/><line x1="707.5" y1="637.2" x2="707.5" y2="613.1" stroke="#000" stroke-width="1"/><line x1="715.5" y1="637.2" x2="715.5" y2="614.1" stroke="#000" stroke-width="1"/><line x1="723.5" y1="637.2" x2="723.5" y2="615.1" stroke="#000" stroke-width="1"/><line x1="731.5" y1="637.2" x2="731.5" y2="615.1" stroke="#000" stroke-width="1"/><line x1="739.5" y1="637.2" x2="739.5" y2="615.9" stroke="#000" stroke-width="1"/><line x1="747.5" y1="637.2" x2="747.5" y2="615.9" stroke="#000" stroke-width="1"/><line x1="755.5" y1="637.2" x2="755.5" y2="617.1" stroke="#000" stroke-width="1"/><line x1="763.5" y1="637.2" x2="763.5" y2="618.1" stroke="#000" stroke-width="1"/><line x1="771.5" y1="637.2" x2="771.5" y2="620.2" stroke="#000" stroke-width="1"/><line x1="779.5" y1="637.2" x2="779.5" y2="622.2" stroke="#000" stroke-width="1"/><line x1="787.5" y1="637.2" x2="787.5" y2="626.4" stroke="#000" stroke-width="1"/><line x1="795.5" y1="637.2" x2="795.5" y2="630.2" stroke="#000" stroke-width="1"/><line x1="803.5" y1="637.2" x2="803.5" y2="634.0" stroke="#000" stroke-width="1"/><line x1="819.5" y1="637.2" x2="819.5" y2="640.3" stroke="#000" stroke-width="1"/><line x1="827.5" y1="637.2" x2="827.5" y2="644.8" stroke="#000" stroke-width="1"/><line x1="835.5" y1="637.2" x2="835.5" y2="646.5" stroke="#000" stroke-width="1"/><line x1="843.5" y1="637.2" x2="843.5" y2="648.3" stroke="#000" stroke-width="1"/><line x1="851.5" y1="637.2" x2="851.5" y2="652.3" stroke="#000" stroke-width="1"/><line x1="859.5" y1="637.2" x2="859.5" y2="654.8" stroke="#000" stroke-width="1"/><line x1="867.5" y1="637.2" x2="867.5" y2="657.4" stroke="#000" stroke-width="1"/><line x1="875.5" y1="637.2" x2="875.5" y2="659.1" stroke="#000" stroke-width="1"/><line x1="883.5" y1="637.2" x2="883.5" y2="660.4" stroke="#000" stroke-width="1"/><line x1="891.5" y1="637.2" x2="891.5" y2="659.1" stroke="#000" stroke-width="1"/><line x1="899.5" y1="637.2" x2="899.5" y2="659.1" stroke="#000" stroke-width="1"/><line x1="907.5" y1="637.2" x2="907.5" y2="659.1" stroke="#000" stroke-width="1"/><line x1="915.5" y1="637.2" x2="915.5" y2="657.4" stroke="#000" stroke-width="1"/><line x1="923.5" y1="637.2" x2="923.5" y2="656.6" stroke="#000" stroke-width="1"/><line x1="931.5" y1="637.2" x2="931.5" y2="654.8" stroke="#000" stroke-width="1"/><line x1="939.5" y1="637.2" x2="939.5" y2="653.3" stroke="#000" stroke-width="1"/><line x1="947.5" y1="637.2" x2="947.5" y2="653.3" stroke="#000" stroke-width="1"/><line x1="955.5" y1="637.2" x2="955.5" y2="654.8" stroke="#000" stroke-width="1"/><line x1="963.5" y1="637.2" x2="963.5" y2="654.8" stroke="#000" stroke-width="1"/><line x1="971.5" y1="637.2" x2="971.5" y2="654.8" stroke="#000" stroke-width="1"/><line x1="979.5" y1="637.2" x2="979.5" y2="654.8" stroke="#000" stroke-width="1"/><line x1="987.5" y1="637.2" x2="987.5" y2="654.8" stroke="#000" stroke-width="1"/><text x="146.3" y="488" font-family="Liberation Sans" font-size="10.9" fill="#111">-0.06701</text><text x="195.9" y="488" font-family="Liberation Sans" font-size="10.9" fill="#ff0000">-0.07756</text><text x="158.3" y="606" font-family="Liberation Sans" font-size="10.9" fill="#111">-0.48954</text><text x="208" y="606" font-family="Liberation Sans" font-size="10.9" fill="#ff0000">-0.49512</text></svg>
<div style="position:absolute;left:0;top:0;width:1353px;height:26px;background:#1c2127"></div><div style="position:absolute;left:0;top:26px;width:1353px;height:5px;background:#37474f"></div><div style="position:absolute;left:12px;top:4px;width:126px;height:22px;background:#263238;border-radius:3px 3px 0 0"></div><div style="position:absolute;left:25px;top:9px;font:11px 'Liberation Sans',sans-serif;color:#ffffff;white-space:nowrap">Wall Street, T80</div><div style="position:absolute;left:110px;top:14px;width:3px;height:3px;border:1px solid #9aa4a8"></div><div style="position:absolute;left:112px;top:12px;width:3px;height:3px;border:1px solid #9aa4a8;background:#263238"></div><svg style="position:absolute;left:123px;top:12px" width="8" height="8"><path d="M1,1.4 L6.6,6.4 M6.6,1.4 L1,6.4" stroke="#9aa4a8" stroke-width="1.5"/></svg><div style="position:absolute;left:143px;top:4px;width:126px;height:22px;background:#263238;border-radius:3px 3px 0 0"></div><div style="position:absolute;left:148px;top:9px;width:1px;height:1px;background:#4a5a62"></div><div style="position:absolute;left:150px;top:9px;width:1px;height:1px;background:#4a5a62"></div><div style="position:absolute;left:148px;top:11px;width:1px;height:1px;background:#4a5a62"></div><div style="position:absolute;left:150px;top:11px;width:1px;height:1px;background:#4a5a62"></div><div style="position:absolute;left:148px;top:13px;width:1px;height:1px;background:#4a5a62"></div><div style="position:absolute;left:150px;top:13px;width:1px;height:1px;background:#4a5a62"></div><div style="position:absolute;left:148px;top:15px;width:1px;height:1px;background:#4a5a62"></div><div style="position:absolute;left:150px;top:15px;width:1px;height:1px;background:#4a5a62"></div><div style="position:absolute;left:148px;top:17px;width:1px;height:1px;background:#4a5a62"></div><div style="position:absolute;left:150px;top:17px;width:1px;height:1px;background:#4a5a62"></div><div style="position:absolute;left:148px;top:19px;width:1px;height:1px;background:#4a5a62"></div><div style="position:absolute;left:150px;top:19px;width:1px;height:1px;background:#4a5a62"></div><div style="position:absolute;left:148px;top:21px;width:1px;height:1px;background:#4a5a62"></div><div style="position:absolute;left:150px;top:21px;width:1px;height:1px;background:#4a5a62"></div><div style="position:absolute;left:156px;top:9px;font:11px 'Liberation Sans',sans-serif;color:#ffffff;white-space:nowrap">UK 100, h4</div><div style="position:absolute;left:241px;top:14px;width:3px;height:3px;border:1px solid #9aa4a8"></div><div style="position:absolute;left:243px;top:12px;width:3px;height:3px;border:1px solid #9aa4a8;background:#263238"></div><svg style="position:absolute;left:254px;top:12px" width="8" height="8"><path d="M1,1.4 L6.6,6.4 M6.6,1.4 L1,6.4" stroke="#9aa4a8" stroke-width="1.5"/></svg><div style="position:absolute;left:274px;top:4px;width:126px;height:22px;background:#263238;border-radius:3px 3px 0 0"></div><div style="position:absolute;left:279px;top:9px;width:1px;height:1px;background:#4a5a62"></div><div style="position:absolute;left:281px;top:9px;width:1px;height:1px;background:#4a5a62"></div><div style="position:absolute;left:279px;top:11px;width:1px;height:1px;background:#4a5a62"></div><div style="position:absolute;left:281px;top:11px;width:1px;height:1px;background:#4a5a62"></div><div style="position:absolute;left:279px;top:13px;width:1px;height:1px;background:#4a5a62"></div><div style="position:absolute;left:281px;top:13px;width:1px;height:1px;background:#4a5a62"></div><div style="position:absolute;left:279px;top:15px;width:1px;height:1px;background:#4a5a62"></div><div style="position:absolute;left:281px;top:15px;width:1px;height:1px;background:#4a5a62"></div><div style="position:absolute;left:279px;top:17px;width:1px;height:1px;background:#4a5a62"></div><div style="position:absolute;left:281px;top:17px;width:1px;height:1px;background:#4a5a62"></div><div style="position:absolute;left:279px;top:19px;width:1px;height:1px;background:#4a5a62"></div><div style="position:absolute;left:281px;top:19px;width:1px;height:1px;background:#4a5a62"></div><div style="position:absolute;left:279px;top:21px;width:1px;height:1px;background:#4a5a62"></div><div style="position:absolute;left:281px;top:21px;width:1px;height:1px;background:#4a5a62"></div><div style="position:absolute;left:287px;top:9px;font:11px 'Liberation Sans',sans-serif;color:#ffffff;white-space:nowrap">UK 100, T80</div><div style="position:absolute;left:372px;top:14px;width:3px;height:3px;border:1px solid #9aa4a8"></div><div style="position:absolute;left:374px;top:12px;width:3px;height:3px;border:1px solid #9aa4a8;background:#263238"></div><svg style="position:absolute;left:385px;top:12px" width="8" height="8"><path d="M1,1.4 L6.6,6.4 M6.6,1.4 L1,6.4" stroke="#9aa4a8" stroke-width="1.5"/></svg><div style="position:absolute;left:405px;top:4px;width:126px;height:22px;background:#263238;border-radius:3px 3px 0 0"></div><div style="position:absolute;left:410px;top:9px;width:1px;height:1px;background:#4a5a62"></div><div style="position:absolute;left:412px;top:9px;width:1px;height:1px;background:#4a5a62"></div><div style="position:absolute;left:410px;top:11px;width:1px;height:1px;background:#4a5a62"></div><div style="position:absolute;left:412px;top:11px;width:1px;height:1px;background:#4a5a62"></div><div style="position:absolute;left:410px;top:13px;width:1px;height:1px;background:#4a5a62"></div><div style="position:absolute;left:412px;top:13px;width:1px;height:1px;background:#4a5a62"></div><div style="position:absolute;left:410px;top:15px;width:1px;height:1px;background:#4a5a62"></div><div style="position:absolute;left:412px;top:15px;width:1px;height:1px;background:#4a5a62"></div><div style="position:absolute;left:410px;top:17px;width:1px;height:1px;background:#4a5a62"></div><div style="position:absolute;left:412px;top:17px;width:1px;height:1px;background:#4a5a62"></div><div style="position:absolute;left:410px;top:19px;width:1px;height:1px;background:#4a5a62"></div><div style="position:absolute;left:412px;top:19px;width:1px;height:1px;background:#4a5a62"></div><div style="position:absolute;left:410px;top:21px;width:1px;height:1px;background:#4a5a62"></div><div style="position:absolute;left:412px;top:21px;width:1px;height:1px;background:#4a5a62"></div><div style="position:absolute;left:418px;top:9px;font:11px 'Liberation Sans',sans-serif;color:#ffffff;white-space:nowrap">Gold, h4</div><div style="position:absolute;left:503px;top:14px;width:3px;height:3px;border:1px solid #9aa4a8"></div><div style="position:absolute;left:505px;top:12px;width:3px;height:3px;border:1px solid #9aa4a8;background:#263238"></div><svg style="position:absolute;left:516px;top:12px" width="8" height="8"><path d="M1,1.4 L6.6,6.4 M6.6,1.4 L1,6.4" stroke="#9aa4a8" stroke-width="1.5"/></svg><div style="position:absolute;left:536px;top:4px;width:126px;height:22px;background:#263238;border-radius:3px 3px 0 0"></div><div style="position:absolute;left:541px;top:9px;width:1px;height:1px;background:#4a5a62"></div><div style="position:absolute;left:543px;top:9px;width:1px;height:1px;background:#4a5a62"></div><div style="position:absolute;left:541px;top:11px;width:1px;height:1px;background:#4a5a62"></div><div style="position:absolute;left:543px;top:11px;width:1px;height:1px;background:#4a5a62"></div><div style="position:absolute;left:541px;top:13px;width:1px;height:1px;background:#4a5a62"></div><div style="position:absolute;left:543px;top:13px;width:1px;height:1px;background:#4a5a62"></div><div style="position:absolute;left:541px;top:15px;width:1px;height:1px;background:#4a5a62"></div><div style="position:absolute;left:543px;top:15px;width:1px;height:1px;background:#4a5a62"></div><div style="position:absolute;left:541px;top:17px;width:1px;height:1px;background:#4a5a62"></div><div style="position:absolute;left:543px;top:17px;width:1px;height:1px;background:#4a5a62"></div><div style="position:absolute;left:541px;top:19px;width:1px;height:1px;background:#4a5a62"></div><div style="position:absolute;left:543px;top:19px;width:1px;height:1px;background:#4a5a62"></div><div style="position:absolute;left:541px;top:21px;width:1px;height:1px;background:#4a5a62"></div><div style="position:absolute;left:543px;top:21px;width:1px;height:1px;background:#4a5a62"></div><div style="position:absolute;left:549px;top:9px;font:11px 'Liberation Sans',sans-serif;color:#ffffff;white-space:nowrap">Gold, T80</div><div style="position:absolute;left:634px;top:14px;width:3px;height:3px;border:1px solid #9aa4a8"></div><div style="position:absolute;left:636px;top:12px;width:3px;height:3px;border:1px solid #9aa4a8;background:#263238"></div><svg style="position:absolute;left:647px;top:12px" width="8" height="8"><path d="M1,1.4 L6.6,6.4 M6.6,1.4 L1,6.4" stroke="#9aa4a8" stroke-width="1.5"/></svg><div style="position:absolute;left:667px;top:4px;width:126px;height:22px;background:#263238;border-radius:3px 3px 0 0"></div><div style="position:absolute;left:672px;top:9px;width:1px;height:1px;background:#4a5a62"></div><div style="position:absolute;left:674px;top:9px;width:1px;height:1px;background:#4a5a62"></div><div style="position:absolute;left:672px;top:11px;width:1px;height:1px;background:#4a5a62"></div><div style="position:absolute;left:674px;top:11px;width:1px;height:1px;background:#4a5a62"></div><div style="position:absolute;left:672px;top:13px;width:1px;height:1px;background:#4a5a62"></div><div style="position:absolute;left:674px;top:13px;width:1px;height:1px;background:#4a5a62"></div><div style="position:absolute;left:672px;top:15px;width:1px;height:1px;background:#4a5a62"></div><div style="position:absolute;left:674px;top:15px;width:1px;height:1px;background:#4a5a62"></div><div style="position:absolute;left:672px;top:17px;width:1px;height:1px;background:#4a5a62"></div><div style="position:absolute;left:674px;top:17px;width:1px;height:1px;background:#4a5a62"></div><div style="position:absolute;left:672px;top:19px;width:1px;height:1px;background:#4a5a62"></div><div style="position:absolute;left:674px;top:19px;width:1px;height:1px;background:#4a5a62"></div><div style="position:absolute;left:672px;top:21px;width:1px;height:1px;background:#4a5a62"></div><div style="position:absolute;left:674px;top:21px;width:1px;height:1px;background:#4a5a62"></div><div style="position:absolute;left:680px;top:9px;font:11px 'Liberation Sans',sans-serif;color:#ffffff;white-space:nowrap">Hong Kong Ind…</div><div style="position:absolute;left:765px;top:14px;width:3px;height:3px;border:1px solid #9aa4a8"></div><div style="position:absolute;left:767px;top:12px;width:3px;height:3px;border:1px solid #9aa4a8;background:#263238"></div><svg style="position:absolute;left:778px;top:12px" width="8" height="8"><path d="M1,1.4 L6.6,6.4 M6.6,1.4 L1,6.4" stroke="#9aa4a8" stroke-width="1.5"/></svg><div style="position:absolute;left:798px;top:4px;width:126px;height:22px;background:#263238;border-radius:3px 3px 0 0"></div><div style="position:absolute;left:803px;top:9px;width:1px;height:1px;background:#4a5a62"></div><div style="position:absolute;left:805px;top:9px;width:1px;height:1px;background:#4a5a62"></div><div style="position:absolute;left:803px;top:11px;width:1px;height:1px;background:#4a5a62"></div><div style="position:absolute;left:805px;top:11px;width:1px;height:1px;background:#4a5a62"></div><div style="position:absolute;left:803px;top:13px;width:1px;height:1px;background:#4a5a62"></div><div style="position:absolute;left:805px;top:13px;width:1px;height:1px;background:#4a5a62"></div><div style="position:absolute;left:803px;top:15px;width:1px;height:1px;background:#4a5a62"></div><div style="position:absolute;left:805px;top:15px;width:1px;height:1px;background:#4a5a62"></div><div style="position:absolute;left:803px;top:17px;width:1px;height:1px;background:#4a5a62"></div><div style="position:absolute;left:805px;top:17px;width:1px;height:1px;background:#4a5a62"></div><div style="position:absolute;left:803px;top:19px;width:1px;height:1px;background:#4a5a62"></div><div style="position:absolute;left:805px;top:19px;width:1px;height:1px;background:#4a5a62"></div><div style="position:absolute;left:803px;top:21px;width:1px;height:1px;background:#4a5a62"></div><div style="position:absolute;left:805px;top:21px;width:1px;height:1px;background:#4a5a62"></div><div style="position:absolute;left:811px;top:9px;font:11px 'Liberation Sans',sans-serif;color:#ffffff;white-space:nowrap">Hong Kong Ind…</div><div style="position:absolute;left:896px;top:14px;width:3px;height:3px;border:1px solid #9aa4a8"></div><div style="position:absolute;left:898px;top:12px;width:3px;height:3px;border:1px solid #9aa4a8;background:#263238"></div><svg style="position:absolute;left:909px;top:12px" width="8" height="8"><path d="M1,1.4 L6.6,6.4 M6.6,1.4 L1,6.4" stroke="#9aa4a8" stroke-width="1.5"/></svg><div style="position:absolute;left:929px;top:4px;width:126px;height:22px;background:#263238;border-radius:3px 3px 0 0"></div><div style="position:absolute;left:934px;top:9px;width:1px;height:1px;background:#4a5a62"></div><div style="position:absolute;left:936px;top:9px;width:1px;height:1px;background:#4a5a62"></div><div style="position:absolute;left:934px;top:11px;width:1px;height:1px;background:#4a5a62"></div><div style="position:absolute;left:936px;top:11px;width:1px;height:1px;background:#4a5a62"></div><div style="position:absolute;left:934px;top:13px;width:1px;height:1px;background:#4a5a62"></div><div style="position:absolute;left:936px;top:13px;width:1px;height:1px;background:#4a5a62"></div><div style="position:absolute;left:934px;top:15px;width:1px;height:1px;background:#4a5a62"></div><div style="position:absolute;left:936px;top:15px;width:1px;height:1px;background:#4a5a62"></div><div style="position:absolute;left:934px;top:17px;width:1px;height:1px;background:#4a5a62"></div><div style="position:absolute;left:936px;top:17px;width:1px;height:1px;background:#4a5a62"></div><div style="position:absolute;left:934px;top:19px;width:1px;height:1px;background:#4a5a62"></div><div style="position:absolute;left:936px;top:19px;width:1px;height:1px;background:#4a5a62"></div><div style="position:absolute;left:934px;top:21px;width:1px;height:1px;background:#4a5a62"></div><div style="position:absolute;left:936px;top:21px;width:1px;height:1px;background:#4a5a62"></div><div style="position:absolute;left:942px;top:9px;font:11px 'Liberation Sans',sans-serif;color:#ffffff;white-space:nowrap">Russ 2K, m30</div><div style="position:absolute;left:1027px;top:14px;width:3px;height:3px;border:1px solid #9aa4a8"></div><div style="position:absolute;left:1029px;top:12px;width:3px;height:3px;border:1px solid #9aa4a8;background:#263238"></div><svg style="position:absolute;left:1040px;top:12px" width="8" height="8"><path d="M1,1.4 L6.6,6.4 M6.6,1.4 L1,6.4" stroke="#9aa4a8" stroke-width="1.5"/></svg><div style="position:absolute;left:1060px;top:4px;width:126px;height:22px;background:#263238;border-radius:3px 3px 0 0"></div><div style="position:absolute;left:1065px;top:9px;width:1px;height:1px;background:#4a5a62"></div><div style="position:absolute;left:1067px;top:9px;width:1px;height:1px;background:#4a5a62"></div><div style="position:absolute;left:1065px;top:11px;width:1px;height:1px;background:#4a5a62"></div><div style="position:absolute;left:1067px;top:11px;width:1px;height:1px;background:#4a5a62"></div><div style="position:absolute;left:1065px;top:13px;width:1px;height:1px;background:#4a5a62"></div><div style="position:absolute;left:1067px;top:13px;width:1px;height:1px;background:#4a5a62"></div><div style="position:absolute;left:1065px;top:15px;width:1px;height:1px;background:#4a5a62"></div><div style="position:absolute;left:1067px;top:15px;width:1px;height:1px;background:#4a5a62"></div><div style="position:absolute;left:1065px;top:17px;width:1px;height:1px;background:#4a5a62"></div><div style="position:absolute;left:1067px;top:17px;width:1px;height:1px;background:#4a5a62"></div><div style="position:absolute;left:1065px;top:19px;width:1px;height:1px;background:#4a5a62"></div><div style="position:absolute;left:1067px;top:19px;width:1px;height:1px;background:#4a5a62"></div><div style="position:absolute;left:1065px;top:21px;width:1px;height:1px;background:#4a5a62"></div><div style="position:absolute;left:1067px;top:21px;width:1px;height:1px;background:#4a5a62"></div><div style="position:absolute;left:1073px;top:9px;font:11px 'Liberation Sans',sans-serif;color:#ffffff;white-space:nowrap">Russ 2K, T80</div><div style="position:absolute;left:1158px;top:14px;width:3px;height:3px;border:1px solid #9aa4a8"></div><div style="position:absolute;left:1160px;top:12px;width:3px;height:3px;border:1px solid #9aa4a8;background:#263238"></div><svg style="position:absolute;left:1171px;top:12px" width="8" height="8"><path d="M1,1.4 L6.6,6.4 M6.6,1.4 L1,6.4" stroke="#9aa4a8" stroke-width="1.5"/></svg><div style="position:absolute;left:1191px;top:4px;width:126px;height:22px;background:#37474f;border-radius:3px 3px 0 0"></div><div style="position:absolute;left:1196px;top:9px;width:1px;height:1px;background:#4a5a62"></div><div style="position:absolute;left:1198px;top:9px;width:1px;height:1px;background:#4a5a62"></div><div style="position:absolute;left:1196px;top:11px;width:1px;height:1px;background:#4a5a62"></div><div style="position:absolute;left:1198px;top:11px;width:1px;height:1px;background:#4a5a62"></div><div style="position:absolute;left:1196px;top:13px;width:1px;height:1px;background:#4a5a62"></div><div style="position:absolute;left:1198px;top:13px;width:1px;height:1px;background:#4a5a62"></div><div style="position:absolute;left:1196px;top:15px;width:1px;height:1px;background:#4a5a62"></div><div style="position:absolute;left:1198px;top:15px;width:1px;height:1px;background:#4a5a62"></div><div style="position:absolute;left:1196px;top:17px;width:1px;height:1px;background:#4a5a62"></div><div style="position:absolute;left:1198px;top:17px;width:1px;height:1px;background:#4a5a62"></div><div style="position:absolute;left:1196px;top:19px;width:1px;height:1px;background:#4a5a62"></div><div style="position:absolute;left:1198px;top:19px;width:1px;height:1px;background:#4a5a62"></div><div style="position:absolute;left:1196px;top:21px;width:1px;height:1px;background:#4a5a62"></div><div style="position:absolute;left:1198px;top:21px;width:1px;height:1px;background:#4a5a62"></div><div style="position:absolute;left:1204px;top:9px;font:11px 'Liberation Sans',sans-serif;color:#ffffff;white-space:nowrap">USDJPY, h4</div><div style="position:absolute;left:1289px;top:14px;width:3px;height:3px;border:1px solid #f0f4f6"></div><div style="position:absolute;left:1291px;top:12px;width:3px;height:3px;border:1px solid #f0f4f6;background:#37474f"></div><svg style="position:absolute;left:1302px;top:12px" width="8" height="8"><path d="M1,1.4 L6.6,6.4 M6.6,1.4 L1,6.4" stroke="#f0f4f6" stroke-width="1.5"/></svg><div style="position:absolute;left:0;top:4px;width:12px;height:19px;background:#263238;border-radius:0 2px 2px 0"></div><svg style="position:absolute;left:0;top:9.5px" width="8" height="9"><polygon points="6,1.2 6,6.6 0.9,3.9" fill="#8e9698"/></svg><div style="position:absolute;left:1322px;top:4px;width:19px;height:19px;background:#222a30;border-radius:2px"></div><svg style="position:absolute;left:1328px;top:10px" width="8" height="9"><polygon points="0.8,0.8 0.8,6.1 6.3,3.45" fill="#7a8488"/></svg><div style="position:absolute;left:1351px;top:13px;width:2px;height:1px;background:#c0c8cc"></div>
<div style="position:absolute;top:35px;width:19px;height:19px;background:#678897;border-radius:3px;left:506px"></div><div style="position:absolute;top:35px;width:19px;height:19px;background:#678897;border-radius:3px;left:529px"></div><div style="position:absolute;top:35px;width:19px;height:19px;background:#678897;border-radius:3px;left:552px"></div><div style="position:absolute;top:35px;width:19px;height:19px;background:#678897;border-radius:3px;left:575px"></div><div style="position:absolute;top:35px;width:19px;height:19px;background:#678897;border-radius:3px;left:746px"></div><div style="position:absolute;top:35px;width:19px;height:19px;background:#678897;border-radius:3px;left:769px"></div><div style="position:absolute;top:35px;width:19px;height:19px;background:#678897;border-radius:3px;left:792px"></div><div style="position:absolute;top:35px;width:19px;height:19px;background:#678897;border-radius:3px;left:815px"></div><svg style="position:absolute;left:506px;top:35px" width="19" height="19"><path d="M5.2,13.8 L8.8,10.2" stroke="#e4ecef" stroke-width="2.3" stroke-linecap="round"/><circle cx="11.4" cy="7.5" r="4.6" fill="#e4ecef"/><path d="M11.4,5.1 v4.8 M9,7.5 h4.8" stroke="#678897" stroke-width="1.1"/></svg><svg style="position:absolute;left:529px;top:35px" width="19" height="19"><path d="M13.8,3.8 H4.3 V11.6 H9.7" fill="none" stroke="#e4ecef" stroke-width="1"/><path d="M6,9.9 L9.7,7 L12.1,8.9 L16.8,3.3 M16.6,8.2 V10.6" fill="none" stroke="#e4ecef" stroke-width="1"/><circle cx="14.4" cy="13.1" r="2.4" fill="#e4ecef"/><path d="M14.4,9.9 V16.3 M11.2,13.1 H17.6 M12.1,10.8 L16.7,15.4 M16.7,10.8 L12.1,15.4" stroke="#e4ecef" stroke-width="1.1"/><circle cx="14.4" cy="13.1" r="1" fill="#678897"/></svg><div style="position:absolute;left:554.6px;top:38.2px;font:9.2px 'Liberation Sans',sans-serif;color:#e4ecef">h</div><div style="position:absolute;left:562.6px;top:44px;font:8px 'Liberation Sans',sans-serif;color:#e4ecef">4</div><svg style="position:absolute;left:575px;top:35px" width="19" height="19"><path d="M6.4,6.8 V16 M10.4,3.1 V16 M14.6,3.1 V12" stroke="#e4ecef" stroke-width="1"/><rect x="5.7" y="9.4" width="1.6" height="4.1" fill="#678897" stroke="#e4ecef" stroke-width="1"/><rect x="9.4" y="6" width="2" height="7.8" fill="#e4ecef" stroke="#e4ecef" stroke-width="1"/><rect x="13.9" y="5" width="1.6" height="4.5" fill="#678897" stroke="#e4ecef" stroke-width="1"/></svg><div style="position:absolute;left:598px;top:36px;width:70px;height:19px;background:#c8304f;border-radius:3px"></div><div style="position:absolute;left:672px;top:36px;width:70px;height:19px;background:#c8304f;border-radius:3px"></div><div style="position:absolute;left:598px;top:60px;width:72px;height:5px;background:#00aab8;border-radius:2.5px"></div><div style="position:absolute;left:674px;top:60px;width:68px;height:5px;background:#cc0033;border-radius:2.5px"></div><div style="position:absolute;left:602.5px;top:39px;font:bold 11px 'Liberation Sans',sans-serif;color:#fff;white-space:nowrap">107.54<span style="font-size:9px">3</span></div><div style="position:absolute;left:698px;top:39px;font:bold 11px 'Liberation Sans',sans-serif;color:#fff;white-space:nowrap">107.55<span style="font-size:9px">2</span></div><svg style="position:absolute;left:655px;top:40px" width="10" height="10"><path d="M2,2 L7,7" stroke="#fff" stroke-width="1.8"/><polygon points="8,3 8,8 3,8" fill="#fff"/></svg><svg style="position:absolute;left:678px;top:40px" width="10" height="10"><path d="M2,2 L7,7" stroke="#fff" stroke-width="1.8"/><polygon points="8,3 8,8 3,8" fill="#fff"/></svg><svg style="position:absolute;left:746px;top:35px" width="19" height="19"><path d="M3.8,4.5 l1.4,1.4 l2.8,-2.8 M3.8,9.6 l1.4,1.4 l2.8,-2.8 M3.8,14.3 l1.4,1.4 l2.8,-2.8" fill="none" stroke="#e4ecef" stroke-width="0.9"/><path d="M10.2,4.5 h6.8 M10.2,9.6 h6.8 M10.2,14.3 h6.8" stroke="#e4ecef" stroke-width="1.2"/></svg><svg style="position:absolute;left:769px;top:35px" width="19" height="19"><path d="M2.9,10.6 L8.3,6.5 L10.4,10.9 L15.2,5" fill="none" stroke="#e4ecef" stroke-width="1.2"/><polygon points="12.4,4 16.9,3 16.4,7.6" fill="#e4ecef"/><rect x="2.9" y="14" width="1" height="2" fill="#e4ecef"/><rect x="5.3" y="12" width="1.3" height="4" fill="#e4ecef"/><rect x="8.3" y="12.6" width="1.7" height="3.4" fill="#e4ecef"/><rect x="11.4" y="13" width="1.4" height="3" fill="#e4ecef"/><rect x="14.8" y="9.9" width="1.2" height="6.1" fill="#e4ecef"/></svg><svg style="position:absolute;left:792px;top:35px" width="19" height="19"><path d="M5,10.6 L11.9,4.1 Q14,3.6 15.9,5.1 Q17.4,7 17,10.2 L15.6,15.7 L8.5,15.7 Q5,13.5 5,10.6 Z" fill="#e4ecef"/><path d="M12.2,5.3 Q13.6,7.5 12.6,9 Q13.6,10.5 13.2,15.7" stroke="#678897" stroke-width="0.9" fill="none"/></svg><svg style="position:absolute;left:815px;top:35px" width="19" height="19"><path d="M5.9,7.5 V6.5 A4.6,3.4 0 0 1 15.1,6.5 V7.5 Z" fill="#e4ecef"/><polygon points="3.8,9.2 12.2,9.2 8.6,16 3.8,16" fill="#e4ecef"/><polygon points="9.6,16 13.4,8.6 17.1,16" fill="#e4ecef"/></svg><div style="position:absolute;left:627px;top:36px;width:1px;height:19px;background:rgba(20,30,45,0.75)"></div>
</body></html>
